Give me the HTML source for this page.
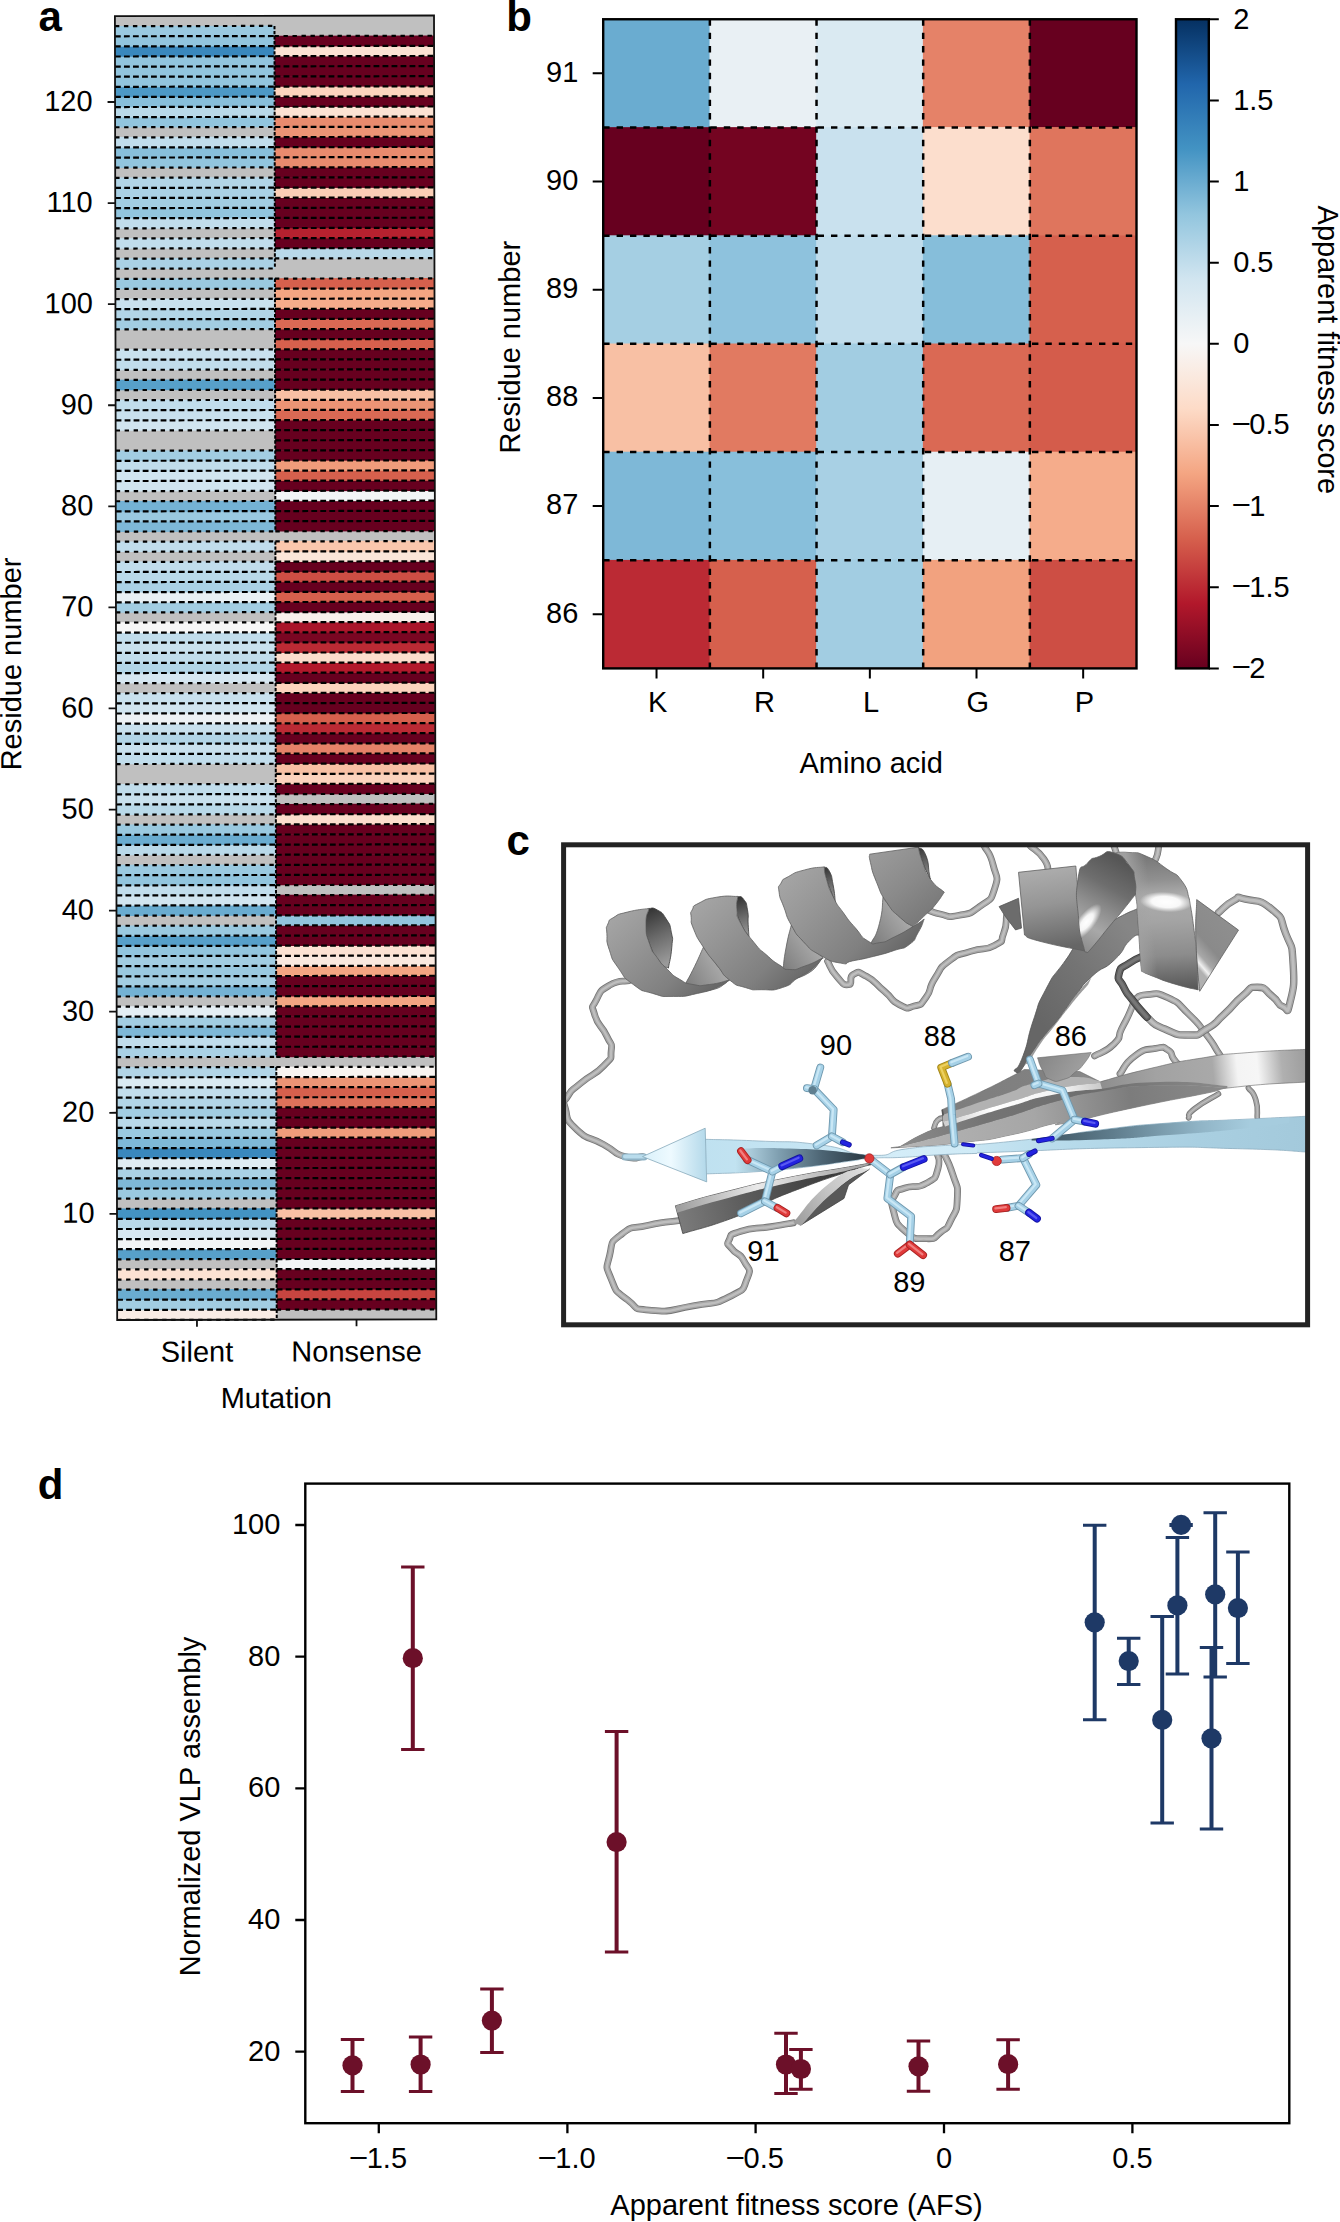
<!DOCTYPE html>
<html><head><meta charset="utf-8"><title>Figure</title>
<style>
html,body{margin:0;padding:0;background:#fff;}
body{width:1340px;height:2222px;overflow:hidden;}
svg{display:block;font-family:"Liberation Sans",sans-serif;fill:#000;}
</style></head><body>
<svg width="1340" height="2222" viewBox="0 0 1340 2222">
<rect width="1340" height="2222" fill="#fff"/>
<g transform="rotate(-0.1 275.6 668)">
<rect x="116.05" y="15.8" width="319.09999999999997" height="1303.9" fill="#c0c0c0"/>
<rect x="116.05" y="1309.29" width="159.55" height="10.71" fill="#f9ece5"/>
<rect x="116.05" y="1299.18" width="159.55" height="10.71" fill="#a2cde2"/>
<rect x="116.05" y="1289.08" width="159.55" height="10.71" fill="#6aacd0"/>
<rect x="116.05" y="1268.86" width="159.55" height="10.71" fill="#fce2d3"/>
<rect x="116.05" y="1248.65" width="159.55" height="10.71" fill="#57a0ca"/>
<rect x="116.05" y="1238.54" width="159.55" height="10.71" fill="#f2f5f6"/>
<rect x="116.05" y="1228.43" width="159.55" height="10.71" fill="#d6e7f1"/>
<rect x="116.05" y="1218.32" width="159.55" height="10.71" fill="#b9d9e9"/>
<rect x="116.05" y="1208.21" width="159.55" height="10.71" fill="#4393c3"/>
<rect x="116.05" y="1188.00" width="159.55" height="10.71" fill="#9ac9e0"/>
<rect x="116.05" y="1177.89" width="159.55" height="10.71" fill="#7eb8d7"/>
<rect x="116.05" y="1167.78" width="159.55" height="10.71" fill="#aad1e5"/>
<rect x="116.05" y="1157.68" width="159.55" height="10.71" fill="#dfecf3"/>
<rect x="116.05" y="1147.57" width="159.55" height="10.71" fill="#3a88bd"/>
<rect x="116.05" y="1137.46" width="159.55" height="10.71" fill="#7eb8d7"/>
<rect x="116.05" y="1127.35" width="159.55" height="10.71" fill="#9ac9e0"/>
<rect x="116.05" y="1117.24" width="159.55" height="10.71" fill="#b9d9e9"/>
<rect x="116.05" y="1107.14" width="159.55" height="10.71" fill="#a2cde2"/>
<rect x="116.05" y="1097.03" width="159.55" height="10.71" fill="#b2d5e7"/>
<rect x="116.05" y="1086.92" width="159.55" height="10.71" fill="#c1ddec"/>
<rect x="116.05" y="1076.81" width="159.55" height="10.71" fill="#daeaf2"/>
<rect x="116.05" y="1066.71" width="159.55" height="10.71" fill="#b2d5e7"/>
<rect x="116.05" y="1046.49" width="159.55" height="10.71" fill="#aad1e5"/>
<rect x="116.05" y="1036.38" width="159.55" height="10.71" fill="#c1ddec"/>
<rect x="116.05" y="1026.28" width="159.55" height="10.71" fill="#7eb8d7"/>
<rect x="116.05" y="1016.17" width="159.55" height="10.71" fill="#a2cde2"/>
<rect x="116.05" y="1006.06" width="159.55" height="10.71" fill="#e4eef4"/>
<rect x="116.05" y="985.84" width="159.55" height="10.71" fill="#74b2d4"/>
<rect x="116.05" y="975.74" width="159.55" height="10.71" fill="#a2cde2"/>
<rect x="116.05" y="965.63" width="159.55" height="10.71" fill="#9ac9e0"/>
<rect x="116.05" y="955.52" width="159.55" height="10.71" fill="#a2cde2"/>
<rect x="116.05" y="945.41" width="159.55" height="10.71" fill="#92c5de"/>
<rect x="116.05" y="935.31" width="159.55" height="10.71" fill="#57a0ca"/>
<rect x="116.05" y="925.20" width="159.55" height="10.71" fill="#9ac9e0"/>
<rect x="116.05" y="904.98" width="159.55" height="10.71" fill="#6aacd0"/>
<rect x="116.05" y="894.87" width="159.55" height="10.71" fill="#d1e5f0"/>
<rect x="116.05" y="884.77" width="159.55" height="10.71" fill="#c1ddec"/>
<rect x="116.05" y="874.66" width="159.55" height="10.71" fill="#92c5de"/>
<rect x="116.05" y="864.55" width="159.55" height="10.71" fill="#9ac9e0"/>
<rect x="116.05" y="844.34" width="159.55" height="10.71" fill="#b9d9e9"/>
<rect x="116.05" y="834.23" width="159.55" height="10.71" fill="#6aacd0"/>
<rect x="116.05" y="824.12" width="159.55" height="10.71" fill="#9ac9e0"/>
<rect x="116.05" y="803.90" width="159.55" height="10.71" fill="#b9d9e9"/>
<rect x="116.05" y="793.80" width="159.55" height="10.71" fill="#c9e1ee"/>
<rect x="116.05" y="783.69" width="159.55" height="10.71" fill="#c1ddec"/>
<rect x="116.05" y="753.37" width="159.55" height="10.71" fill="#c1ddec"/>
<rect x="116.05" y="743.26" width="159.55" height="10.71" fill="#c9e1ee"/>
<rect x="116.05" y="733.15" width="159.55" height="10.71" fill="#b2d5e7"/>
<rect x="116.05" y="723.04" width="159.55" height="10.71" fill="#c9e1ee"/>
<rect x="116.05" y="712.93" width="159.55" height="10.71" fill="#eef2f5"/>
<rect x="116.05" y="702.83" width="159.55" height="10.71" fill="#d1e5f0"/>
<rect x="116.05" y="692.72" width="159.55" height="10.71" fill="#c9e1ee"/>
<rect x="116.05" y="672.50" width="159.55" height="10.71" fill="#d6e7f1"/>
<rect x="116.05" y="662.40" width="159.55" height="10.71" fill="#b2d5e7"/>
<rect x="116.05" y="652.29" width="159.55" height="10.71" fill="#c1ddec"/>
<rect x="116.05" y="642.18" width="159.55" height="10.71" fill="#c9e1ee"/>
<rect x="116.05" y="632.07" width="159.55" height="10.71" fill="#c1ddec"/>
<rect x="116.05" y="621.97" width="159.55" height="10.71" fill="#f7f7f7"/>
<rect x="116.05" y="601.75" width="159.55" height="10.71" fill="#a2cde2"/>
<rect x="116.05" y="591.64" width="159.55" height="10.71" fill="#e9f0f4"/>
<rect x="116.05" y="581.53" width="159.55" height="10.71" fill="#aad1e5"/>
<rect x="116.05" y="571.43" width="159.55" height="10.71" fill="#b9d9e9"/>
<rect x="116.05" y="561.32" width="159.55" height="10.71" fill="#c1ddec"/>
<rect x="116.05" y="541.10" width="159.55" height="10.71" fill="#c1ddec"/>
<rect x="116.05" y="520.89" width="159.55" height="10.71" fill="#7eb8d7"/>
<rect x="116.05" y="510.78" width="159.55" height="10.71" fill="#9ac9e0"/>
<rect x="116.05" y="500.67" width="159.55" height="10.71" fill="#74b2d4"/>
<rect x="116.05" y="480.46" width="159.55" height="10.71" fill="#d1e5f0"/>
<rect x="116.05" y="470.35" width="159.55" height="10.71" fill="#d1e5f0"/>
<rect x="116.05" y="460.24" width="159.55" height="10.71" fill="#c1ddec"/>
<rect x="116.05" y="450.13" width="159.55" height="10.71" fill="#a2cde2"/>
<rect x="116.05" y="419.81" width="159.55" height="10.71" fill="#d1e5f0"/>
<rect x="116.05" y="409.70" width="159.55" height="10.71" fill="#c9e1ee"/>
<rect x="116.05" y="399.59" width="159.55" height="10.71" fill="#c1ddec"/>
<rect x="116.05" y="379.38" width="159.55" height="10.71" fill="#57a0ca"/>
<rect x="116.05" y="359.16" width="159.55" height="10.71" fill="#c1ddec"/>
<rect x="116.05" y="349.06" width="159.55" height="10.71" fill="#c9e1ee"/>
<rect x="116.05" y="318.73" width="159.55" height="10.71" fill="#a2cde2"/>
<rect x="116.05" y="308.62" width="159.55" height="10.71" fill="#b2d5e7"/>
<rect x="116.05" y="298.52" width="159.55" height="10.71" fill="#c9e1ee"/>
<rect x="116.05" y="278.30" width="159.55" height="10.71" fill="#9ac9e0"/>
<rect x="116.05" y="258.09" width="159.55" height="10.71" fill="#aad1e5"/>
<rect x="116.05" y="237.87" width="159.55" height="10.71" fill="#c1ddec"/>
<rect x="116.05" y="217.66" width="159.55" height="10.71" fill="#c1ddec"/>
<rect x="116.05" y="207.55" width="159.55" height="10.71" fill="#92c5de"/>
<rect x="116.05" y="197.44" width="159.55" height="10.71" fill="#a2cde2"/>
<rect x="116.05" y="187.33" width="159.55" height="10.71" fill="#aad1e5"/>
<rect x="116.05" y="177.22" width="159.55" height="10.71" fill="#b2d5e7"/>
<rect x="116.05" y="157.01" width="159.55" height="10.71" fill="#92c5de"/>
<rect x="116.05" y="146.90" width="159.55" height="10.71" fill="#88bfdb"/>
<rect x="116.05" y="136.79" width="159.55" height="10.71" fill="#c1ddec"/>
<rect x="116.05" y="116.58" width="159.55" height="10.71" fill="#92c5de"/>
<rect x="116.05" y="106.47" width="159.55" height="10.71" fill="#b9d9e9"/>
<rect x="116.05" y="96.36" width="159.55" height="10.71" fill="#88bfdb"/>
<rect x="116.05" y="86.25" width="159.55" height="10.71" fill="#4d99c6"/>
<rect x="116.05" y="76.15" width="159.55" height="10.71" fill="#92c5de"/>
<rect x="116.05" y="66.04" width="159.55" height="10.71" fill="#92c5de"/>
<rect x="116.05" y="55.93" width="159.55" height="10.71" fill="#92c5de"/>
<rect x="116.05" y="45.82" width="159.55" height="10.71" fill="#3a88bd"/>
<rect x="116.05" y="35.72" width="159.55" height="10.71" fill="#92c5de"/>
<rect x="116.05" y="25.61" width="159.55" height="10.71" fill="#9ac9e0"/>
<rect x="275.60" y="1299.18" width="159.55" height="10.71" fill="#67001f"/>
<rect x="275.60" y="1289.08" width="159.55" height="10.71" fill="#c84540"/>
<rect x="275.60" y="1278.97" width="159.55" height="10.71" fill="#67001f"/>
<rect x="275.60" y="1268.86" width="159.55" height="10.71" fill="#67001f"/>
<rect x="275.60" y="1258.75" width="159.55" height="10.71" fill="#f2f5f6"/>
<rect x="275.60" y="1248.65" width="159.55" height="10.71" fill="#67001f"/>
<rect x="275.60" y="1238.54" width="159.55" height="10.71" fill="#67001f"/>
<rect x="275.60" y="1228.43" width="159.55" height="10.71" fill="#67001f"/>
<rect x="275.60" y="1218.32" width="159.55" height="10.71" fill="#67001f"/>
<rect x="275.60" y="1208.21" width="159.55" height="10.71" fill="#f8c0a4"/>
<rect x="275.60" y="1198.11" width="159.55" height="10.71" fill="#67001f"/>
<rect x="275.60" y="1188.00" width="159.55" height="10.71" fill="#67001f"/>
<rect x="275.60" y="1177.89" width="159.55" height="10.71" fill="#67001f"/>
<rect x="275.60" y="1167.78" width="159.55" height="10.71" fill="#67001f"/>
<rect x="275.60" y="1157.68" width="159.55" height="10.71" fill="#67001f"/>
<rect x="275.60" y="1147.57" width="159.55" height="10.71" fill="#67001f"/>
<rect x="275.60" y="1137.46" width="159.55" height="10.71" fill="#67001f"/>
<rect x="275.60" y="1127.35" width="159.55" height="10.71" fill="#f09c7b"/>
<rect x="275.60" y="1117.24" width="159.55" height="10.71" fill="#67001f"/>
<rect x="275.60" y="1107.14" width="159.55" height="10.71" fill="#67001f"/>
<rect x="275.60" y="1097.03" width="159.55" height="10.71" fill="#de715a"/>
<rect x="275.60" y="1086.92" width="159.55" height="10.71" fill="#d6604d"/>
<rect x="275.60" y="1076.81" width="159.55" height="10.71" fill="#ec9475"/>
<rect x="275.60" y="1066.71" width="159.55" height="10.71" fill="#f8f4f1"/>
<rect x="275.60" y="1046.49" width="159.55" height="10.71" fill="#67001f"/>
<rect x="275.60" y="1036.38" width="159.55" height="10.71" fill="#67001f"/>
<rect x="275.60" y="1026.28" width="159.55" height="10.71" fill="#67001f"/>
<rect x="275.60" y="1016.17" width="159.55" height="10.71" fill="#67001f"/>
<rect x="275.60" y="1006.06" width="159.55" height="10.71" fill="#67001f"/>
<rect x="275.60" y="995.95" width="159.55" height="10.71" fill="#f4a582"/>
<rect x="275.60" y="985.84" width="159.55" height="10.71" fill="#67001f"/>
<rect x="275.60" y="975.74" width="159.55" height="10.71" fill="#67001f"/>
<rect x="275.60" y="965.63" width="159.55" height="10.71" fill="#f4a582"/>
<rect x="275.60" y="955.52" width="159.55" height="10.71" fill="#fae9df"/>
<rect x="275.60" y="945.41" width="159.55" height="10.71" fill="#fce2d3"/>
<rect x="275.60" y="935.31" width="159.55" height="10.71" fill="#67001f"/>
<rect x="275.60" y="925.20" width="159.55" height="10.71" fill="#67001f"/>
<rect x="275.60" y="915.09" width="159.55" height="10.71" fill="#92c5de"/>
<rect x="275.60" y="904.98" width="159.55" height="10.71" fill="#67001f"/>
<rect x="275.60" y="894.87" width="159.55" height="10.71" fill="#67001f"/>
<rect x="275.60" y="874.66" width="159.55" height="10.71" fill="#67001f"/>
<rect x="275.60" y="864.55" width="159.55" height="10.71" fill="#67001f"/>
<rect x="275.60" y="854.44" width="159.55" height="10.71" fill="#67001f"/>
<rect x="275.60" y="844.34" width="159.55" height="10.71" fill="#67001f"/>
<rect x="275.60" y="834.23" width="159.55" height="10.71" fill="#67001f"/>
<rect x="275.60" y="824.12" width="159.55" height="10.71" fill="#67001f"/>
<rect x="275.60" y="814.01" width="159.55" height="10.71" fill="#fcdecd"/>
<rect x="275.60" y="803.90" width="159.55" height="10.71" fill="#67001f"/>
<rect x="275.60" y="783.69" width="159.55" height="10.71" fill="#67001f"/>
<rect x="275.60" y="773.58" width="159.55" height="10.71" fill="#fcd4be"/>
<rect x="275.60" y="763.47" width="159.55" height="10.71" fill="#f8c0a4"/>
<rect x="275.60" y="753.37" width="159.55" height="10.71" fill="#67001f"/>
<rect x="275.60" y="743.26" width="159.55" height="10.71" fill="#e58268"/>
<rect x="275.60" y="733.15" width="159.55" height="10.71" fill="#67001f"/>
<rect x="275.60" y="723.04" width="159.55" height="10.71" fill="#bb2a34"/>
<rect x="275.60" y="712.93" width="159.55" height="10.71" fill="#d6604d"/>
<rect x="275.60" y="702.83" width="159.55" height="10.71" fill="#67001f"/>
<rect x="275.60" y="692.72" width="159.55" height="10.71" fill="#67001f"/>
<rect x="275.60" y="682.61" width="159.55" height="10.71" fill="#fcd4be"/>
<rect x="275.60" y="672.50" width="159.55" height="10.71" fill="#67001f"/>
<rect x="275.60" y="662.40" width="159.55" height="10.71" fill="#b2182b"/>
<rect x="275.60" y="652.29" width="159.55" height="10.71" fill="#fcdecd"/>
<rect x="275.60" y="642.18" width="159.55" height="10.71" fill="#bb2a34"/>
<rect x="275.60" y="632.07" width="159.55" height="10.71" fill="#7a0622"/>
<rect x="275.60" y="621.97" width="159.55" height="10.71" fill="#a9152a"/>
<rect x="275.60" y="611.86" width="159.55" height="10.71" fill="#f8f0eb"/>
<rect x="275.60" y="601.75" width="159.55" height="10.71" fill="#67001f"/>
<rect x="275.60" y="591.64" width="159.55" height="10.71" fill="#d6604d"/>
<rect x="275.60" y="581.53" width="159.55" height="10.71" fill="#67001f"/>
<rect x="275.60" y="571.43" width="159.55" height="10.71" fill="#cd4e44"/>
<rect x="275.60" y="561.32" width="159.55" height="10.71" fill="#67001f"/>
<rect x="275.60" y="551.21" width="159.55" height="10.71" fill="#fbe6d9"/>
<rect x="275.60" y="541.10" width="159.55" height="10.71" fill="#fac7ad"/>
<rect x="275.60" y="520.89" width="159.55" height="10.71" fill="#67001f"/>
<rect x="275.60" y="510.78" width="159.55" height="10.71" fill="#67001f"/>
<rect x="275.60" y="500.67" width="159.55" height="10.71" fill="#67001f"/>
<rect x="275.60" y="490.56" width="159.55" height="10.71" fill="#f2f5f6"/>
<rect x="275.60" y="480.46" width="159.55" height="10.71" fill="#67001f"/>
<rect x="275.60" y="470.35" width="159.55" height="10.71" fill="#d6604d"/>
<rect x="275.60" y="460.24" width="159.55" height="10.71" fill="#f09c7b"/>
<rect x="275.60" y="450.13" width="159.55" height="10.71" fill="#67001f"/>
<rect x="275.60" y="440.03" width="159.55" height="10.71" fill="#67001f"/>
<rect x="275.60" y="429.92" width="159.55" height="10.71" fill="#67001f"/>
<rect x="275.60" y="419.81" width="159.55" height="10.71" fill="#67001f"/>
<rect x="275.60" y="409.70" width="159.55" height="10.71" fill="#da6954"/>
<rect x="275.60" y="399.59" width="159.55" height="10.71" fill="#ec9475"/>
<rect x="275.60" y="389.49" width="159.55" height="10.71" fill="#f8c0a4"/>
<rect x="275.60" y="379.38" width="159.55" height="10.71" fill="#67001f"/>
<rect x="275.60" y="369.27" width="159.55" height="10.71" fill="#67001f"/>
<rect x="275.60" y="359.16" width="159.55" height="10.71" fill="#67001f"/>
<rect x="275.60" y="349.06" width="159.55" height="10.71" fill="#67001f"/>
<rect x="275.60" y="338.95" width="159.55" height="10.71" fill="#d6604d"/>
<rect x="275.60" y="328.84" width="159.55" height="10.71" fill="#67001f"/>
<rect x="275.60" y="318.73" width="159.55" height="10.71" fill="#da6954"/>
<rect x="275.60" y="308.62" width="159.55" height="10.71" fill="#67001f"/>
<rect x="275.60" y="298.52" width="159.55" height="10.71" fill="#f5ac8b"/>
<rect x="275.60" y="288.41" width="159.55" height="10.71" fill="#f4a582"/>
<rect x="275.60" y="278.30" width="159.55" height="10.71" fill="#d6604d"/>
<rect x="275.60" y="247.98" width="159.55" height="10.71" fill="#b9d9e9"/>
<rect x="275.60" y="237.87" width="159.55" height="10.71" fill="#67001f"/>
<rect x="275.60" y="227.76" width="159.55" height="10.71" fill="#b6212f"/>
<rect x="275.60" y="217.66" width="159.55" height="10.71" fill="#67001f"/>
<rect x="275.60" y="207.55" width="159.55" height="10.71" fill="#67001f"/>
<rect x="275.60" y="197.44" width="159.55" height="10.71" fill="#67001f"/>
<rect x="275.60" y="187.33" width="159.55" height="10.71" fill="#fbceb6"/>
<rect x="275.60" y="177.22" width="159.55" height="10.71" fill="#67001f"/>
<rect x="275.60" y="167.12" width="159.55" height="10.71" fill="#67001f"/>
<rect x="275.60" y="157.01" width="159.55" height="10.71" fill="#e98b6e"/>
<rect x="275.60" y="146.90" width="159.55" height="10.71" fill="#e98b6e"/>
<rect x="275.60" y="136.79" width="159.55" height="10.71" fill="#67001f"/>
<rect x="275.60" y="126.69" width="159.55" height="10.71" fill="#ec9475"/>
<rect x="275.60" y="116.58" width="159.55" height="10.71" fill="#e98b6e"/>
<rect x="275.60" y="106.47" width="159.55" height="10.71" fill="#fce2d3"/>
<rect x="275.60" y="96.36" width="159.55" height="10.71" fill="#67001f"/>
<rect x="275.60" y="86.25" width="159.55" height="10.71" fill="#fcd4be"/>
<rect x="275.60" y="76.15" width="159.55" height="10.71" fill="#67001f"/>
<rect x="275.60" y="66.04" width="159.55" height="10.71" fill="#67001f"/>
<rect x="275.60" y="55.93" width="159.55" height="10.71" fill="#67001f"/>
<rect x="275.60" y="45.82" width="159.55" height="10.71" fill="#fce2d3"/>
<rect x="275.60" y="35.72" width="159.55" height="10.71" fill="#67001f"/>
<path d="M116.05 1309.59H275.60M116.05 1299.48H275.60M116.05 1248.95H275.60M116.05 1238.84H275.60M116.05 1228.73H275.60M116.05 1218.62H275.60M116.05 1188.30H275.60M116.05 1178.19H275.60M116.05 1168.08H275.60M116.05 1157.98H275.60M116.05 1147.87H275.60M116.05 1137.76H275.60M116.05 1127.65H275.60M116.05 1117.54H275.60M116.05 1107.44H275.60M116.05 1097.33H275.60M116.05 1087.22H275.60M116.05 1077.11H275.60M116.05 1046.79H275.60M116.05 1036.68H275.60M116.05 1026.58H275.60M116.05 1016.47H275.60M116.05 986.14H275.60M116.05 976.04H275.60M116.05 965.93H275.60M116.05 955.82H275.60M116.05 945.71H275.60M116.05 935.61H275.60M116.05 905.28H275.60M116.05 895.17H275.60M116.05 885.07H275.60M116.05 874.96H275.60M116.05 844.64H275.60M116.05 834.53H275.60M116.05 804.20H275.60M116.05 794.10H275.60M116.05 753.67H275.60M116.05 743.56H275.60M116.05 733.45H275.60M116.05 723.34H275.60M116.05 713.23H275.60M116.05 703.13H275.60M116.05 672.80H275.60M116.05 662.70H275.60M116.05 652.59H275.60M116.05 642.48H275.60M116.05 632.37H275.60M116.05 602.05H275.60M116.05 591.94H275.60M116.05 581.83H275.60M116.05 571.73H275.60M116.05 521.19H275.60M116.05 511.08H275.60M116.05 480.76H275.60M116.05 470.65H275.60M116.05 460.54H275.60M116.05 420.11H275.60M116.05 410.00H275.60M116.05 359.46H275.60M116.05 319.03H275.60M116.05 308.92H275.60M116.05 217.96H275.60M116.05 207.85H275.60M116.05 197.74H275.60M116.05 187.63H275.60M116.05 157.31H275.60M116.05 147.20H275.60M116.05 116.88H275.60M116.05 106.77H275.60M116.05 96.66H275.60M116.05 86.55H275.60M116.05 76.45H275.60M116.05 66.34H275.60M116.05 56.23H275.60M116.05 46.12H275.60M116.05 36.02H275.60M275.60 1299.48H435.15M275.60 1289.38H435.15M275.60 1279.27H435.15M275.60 1269.16H435.15M275.60 1259.05H435.15M275.60 1248.95H435.15M275.60 1238.84H435.15M275.60 1228.73H435.15M275.60 1218.62H435.15M275.60 1208.51H435.15M275.60 1198.41H435.15M275.60 1188.30H435.15M275.60 1178.19H435.15M275.60 1168.08H435.15M275.60 1157.98H435.15M275.60 1147.87H435.15M275.60 1137.76H435.15M275.60 1127.65H435.15M275.60 1117.54H435.15M275.60 1107.44H435.15M275.60 1097.33H435.15M275.60 1087.22H435.15M275.60 1077.11H435.15M275.60 1046.79H435.15M275.60 1036.68H435.15M275.60 1026.58H435.15M275.60 1016.47H435.15M275.60 1006.36H435.15M275.60 996.25H435.15M275.60 986.14H435.15M275.60 976.04H435.15M275.60 965.93H435.15M275.60 955.82H435.15M275.60 945.71H435.15M275.60 935.61H435.15M275.60 925.50H435.15M275.60 915.39H435.15M275.60 905.28H435.15M275.60 874.96H435.15M275.60 864.85H435.15M275.60 854.74H435.15M275.60 844.64H435.15M275.60 834.53H435.15M275.60 824.42H435.15M275.60 814.31H435.15M275.60 783.99H435.15M275.60 773.88H435.15M275.60 763.77H435.15M275.60 753.67H435.15M275.60 743.56H435.15M275.60 733.45H435.15M275.60 723.34H435.15M275.60 713.23H435.15M275.60 703.13H435.15M275.60 693.02H435.15M275.60 682.91H435.15M275.60 672.80H435.15M275.60 662.70H435.15M275.60 652.59H435.15M275.60 642.48H435.15M275.60 632.37H435.15M275.60 622.27H435.15M275.60 612.16H435.15M275.60 602.05H435.15M275.60 591.94H435.15M275.60 581.83H435.15M275.60 571.73H435.15M275.60 561.62H435.15M275.60 551.51H435.15M275.60 521.19H435.15M275.60 511.08H435.15M275.60 500.97H435.15M275.60 490.86H435.15M275.60 480.76H435.15M275.60 470.65H435.15M275.60 460.54H435.15M275.60 450.43H435.15M275.60 440.33H435.15M275.60 430.22H435.15M275.60 420.11H435.15M275.60 410.00H435.15M275.60 399.89H435.15M275.60 389.79H435.15M275.60 379.68H435.15M275.60 369.57H435.15M275.60 359.46H435.15M275.60 349.36H435.15M275.60 339.25H435.15M275.60 329.14H435.15M275.60 319.03H435.15M275.60 308.92H435.15M275.60 298.82H435.15M275.60 288.71H435.15M275.60 248.28H435.15M275.60 238.17H435.15M275.60 228.06H435.15M275.60 217.96H435.15M275.60 207.85H435.15M275.60 197.74H435.15M275.60 187.63H435.15M275.60 177.52H435.15M275.60 167.42H435.15M275.60 157.31H435.15M275.60 147.20H435.15M275.60 137.09H435.15M275.60 126.99H435.15M275.60 116.88H435.15M275.60 106.77H435.15M275.60 96.66H435.15M275.60 86.55H435.15M275.60 76.45H435.15M275.60 66.34H435.15M275.60 56.23H435.15M275.60 46.12H435.15" stroke="#000" stroke-width="2.2" stroke-dasharray="5.8 3.2" fill="none"/>
<path d="M116.05 1319.70H275.60M116.05 1289.38H275.60M116.05 1279.27H275.60M116.05 1269.16H275.60M116.05 1259.05H275.60M116.05 1208.51H275.60M116.05 1198.41H275.60M116.05 1067.01H275.60M116.05 1056.90H275.60M116.05 1006.36H275.60M116.05 996.25H275.60M116.05 925.50H275.60M116.05 915.39H275.60M116.05 864.85H275.60M116.05 854.74H275.60M116.05 824.42H275.60M116.05 814.31H275.60M116.05 783.99H275.60M116.05 763.77H275.60M116.05 693.02H275.60M116.05 682.91H275.60M116.05 622.27H275.60M116.05 612.16H275.60M116.05 561.62H275.60M116.05 551.51H275.60M116.05 541.40H275.60M116.05 531.30H275.60M116.05 500.97H275.60M116.05 490.86H275.60M116.05 450.43H275.60M116.05 430.22H275.60M116.05 399.89H275.60M116.05 389.79H275.60M116.05 379.68H275.60M116.05 369.57H275.60M116.05 349.36H275.60M116.05 329.14H275.60M116.05 298.82H275.60M116.05 288.71H275.60M116.05 278.60H275.60M116.05 268.49H275.60M116.05 258.39H275.60M116.05 248.28H275.60M116.05 238.17H275.60M116.05 228.06H275.60M116.05 177.52H275.60M116.05 167.42H275.60M116.05 137.09H275.60M116.05 126.99H275.60M116.05 25.91H275.60M275.60 1309.59H435.15M275.60 1067.01H435.15M275.60 1056.90H435.15M275.60 895.17H435.15M275.60 885.07H435.15M275.60 804.20H435.15M275.60 794.10H435.15M275.60 541.40H435.15M275.60 531.30H435.15M275.60 278.60H435.15M275.60 258.39H435.15M275.60 36.02H435.15" stroke="#000" stroke-width="2.2" stroke-dasharray="4.4 4.6" fill="none"/>
<path d="M275.60 1309.59V1319.70M275.60 1299.48V1309.59M275.60 1289.38V1299.48M275.60 1279.27V1289.38M275.60 1269.16V1279.27M275.60 1259.05V1269.16M275.60 1248.95V1259.05M275.60 1238.84V1248.95M275.60 1228.73V1238.84M275.60 1218.62V1228.73M275.60 1208.51V1218.62M275.60 1198.41V1208.51M275.60 1188.30V1198.41M275.60 1178.19V1188.30M275.60 1168.08V1178.19M275.60 1157.98V1168.08M275.60 1147.87V1157.98M275.60 1137.76V1147.87M275.60 1127.65V1137.76M275.60 1117.54V1127.65M275.60 1107.44V1117.54M275.60 1097.33V1107.44M275.60 1087.22V1097.33M275.60 1077.11V1087.22M275.60 1067.01V1077.11M275.60 1046.79V1056.90M275.60 1036.68V1046.79M275.60 1026.58V1036.68M275.60 1016.47V1026.58M275.60 1006.36V1016.47M275.60 996.25V1006.36M275.60 986.14V996.25M275.60 976.04V986.14M275.60 965.93V976.04M275.60 955.82V965.93M275.60 945.71V955.82M275.60 935.61V945.71M275.60 925.50V935.61M275.60 915.39V925.50M275.60 905.28V915.39M275.60 895.17V905.28M275.60 885.07V895.17M275.60 874.96V885.07M275.60 864.85V874.96M275.60 854.74V864.85M275.60 844.64V854.74M275.60 834.53V844.64M275.60 824.42V834.53M275.60 814.31V824.42M275.60 804.20V814.31M275.60 794.10V804.20M275.60 783.99V794.10M275.60 773.88V783.99M275.60 763.77V773.88M275.60 753.67V763.77M275.60 743.56V753.67M275.60 733.45V743.56M275.60 723.34V733.45M275.60 713.23V723.34M275.60 703.13V713.23M275.60 693.02V703.13M275.60 682.91V693.02M275.60 672.80V682.91M275.60 662.70V672.80M275.60 652.59V662.70M275.60 642.48V652.59M275.60 632.37V642.48M275.60 622.27V632.37M275.60 612.16V622.27M275.60 602.05V612.16M275.60 591.94V602.05M275.60 581.83V591.94M275.60 571.73V581.83M275.60 561.62V571.73M275.60 551.51V561.62M275.60 541.40V551.51M275.60 521.19V531.30M275.60 511.08V521.19M275.60 500.97V511.08M275.60 490.86V500.97M275.60 480.76V490.86M275.60 470.65V480.76M275.60 460.54V470.65M275.60 450.43V460.54M275.60 440.33V450.43M275.60 430.22V440.33M275.60 420.11V430.22M275.60 410.00V420.11M275.60 399.89V410.00M275.60 389.79V399.89M275.60 379.68V389.79M275.60 369.57V379.68M275.60 359.46V369.57M275.60 349.36V359.46M275.60 339.25V349.36M275.60 329.14V339.25M275.60 319.03V329.14M275.60 308.92V319.03M275.60 298.82V308.92M275.60 288.71V298.82M275.60 278.60V288.71M275.60 258.39V268.49M275.60 248.28V258.39M275.60 238.17V248.28M275.60 228.06V238.17M275.60 217.96V228.06M275.60 207.85V217.96M275.60 197.74V207.85M275.60 187.63V197.74M275.60 177.52V187.63M275.60 167.42V177.52M275.60 157.31V167.42M275.60 147.20V157.31M275.60 137.09V147.20M275.60 126.99V137.09M275.60 116.88V126.99M275.60 106.77V116.88M275.60 96.66V106.77M275.60 86.55V96.66M275.60 76.45V86.55M275.60 66.34V76.45M275.60 56.23V66.34M275.60 46.12V56.23M275.60 36.02V46.12M275.60 25.91V36.02" stroke="#000" stroke-width="2" stroke-dasharray="3.4 1.65" fill="none"/>
<rect x="116.05" y="15.8" width="319.09999999999997" height="1303.9" fill="none" stroke="#111" stroke-width="1.8"/>
<text x="93.55" y="1222.47" text-anchor="end" font-size="29" font-weight="normal">10</text>
<text x="93.55" y="1121.39" text-anchor="end" font-size="29" font-weight="normal">20</text>
<text x="93.55" y="1020.31" text-anchor="end" font-size="29" font-weight="normal">30</text>
<text x="93.55" y="919.24" text-anchor="end" font-size="29" font-weight="normal">40</text>
<text x="93.55" y="818.16" text-anchor="end" font-size="29" font-weight="normal">50</text>
<text x="93.55" y="717.08" text-anchor="end" font-size="29" font-weight="normal">60</text>
<text x="93.55" y="616.0" text-anchor="end" font-size="29" font-weight="normal">70</text>
<text x="93.55" y="514.93" text-anchor="end" font-size="29" font-weight="normal">80</text>
<text x="93.55" y="413.85" text-anchor="end" font-size="29" font-weight="normal">90</text>
<text x="93.55" y="312.77" text-anchor="end" font-size="29" font-weight="normal">100</text>
<text x="93.55" y="211.69" text-anchor="end" font-size="29" font-weight="normal">110</text>
<text x="93.55" y="110.62" text-anchor="end" font-size="29" font-weight="normal">120</text>
<path d="M108.55 1213.57H116.05M108.55 1112.49H116.05M108.55 1011.41H116.05M108.55 910.34H116.05M108.55 809.26H116.05M108.55 708.18H116.05M108.55 607.10H116.05M108.55 506.03H116.05M108.55 404.95H116.05M108.55 303.87H116.05M108.55 202.79H116.05M108.55 101.72H116.05M195.82 1319.7V1326.5M355.38 1319.7V1326.5" stroke="#111" stroke-width="1.8" fill="none"/>
<text x="195.8" y="1361.5" text-anchor="middle" font-size="29" font-weight="normal">Silent</text>
<text x="355.4" y="1361.5" text-anchor="middle" font-size="29" font-weight="normal">Nonsense</text>
<text x="275" y="1408" text-anchor="middle" font-size="29" font-weight="normal">Mutation</text>
<text x="21" y="663.5" text-anchor="middle" font-size="29" font-weight="normal" transform="rotate(-90 21 663.5)">Residue number</text>
</g>
<text x="38.5" y="31" text-anchor="start" font-size="42" font-weight="bold">a</text>
<rect x="602.90" y="18.95" width="107.26" height="108.79" fill="#6aacd0"/>
<rect x="709.56" y="18.95" width="107.26" height="108.79" fill="#e9f0f4"/>
<rect x="816.22" y="18.95" width="107.26" height="108.79" fill="#daeaf2"/>
<rect x="922.88" y="18.95" width="107.26" height="108.79" fill="#e58268"/>
<rect x="1029.54" y="18.95" width="107.26" height="108.79" fill="#67001f"/>
<rect x="602.90" y="127.14" width="107.26" height="108.79" fill="#67001f"/>
<rect x="709.56" y="127.14" width="107.26" height="108.79" fill="#740421"/>
<rect x="816.22" y="127.14" width="107.26" height="108.79" fill="#c9e1ee"/>
<rect x="922.88" y="127.14" width="107.26" height="108.79" fill="#fcdecd"/>
<rect x="1029.54" y="127.14" width="107.26" height="108.79" fill="#df755d"/>
<rect x="602.90" y="235.33" width="107.26" height="108.79" fill="#a5cfe3"/>
<rect x="709.56" y="235.33" width="107.26" height="108.79" fill="#8ec2dd"/>
<rect x="816.22" y="235.33" width="107.26" height="108.79" fill="#c1ddec"/>
<rect x="922.88" y="235.33" width="107.26" height="108.79" fill="#86beda"/>
<rect x="1029.54" y="235.33" width="107.26" height="108.79" fill="#d6604d"/>
<rect x="602.90" y="343.52" width="107.26" height="108.79" fill="#f8c0a4"/>
<rect x="709.56" y="343.52" width="107.26" height="108.79" fill="#e17a61"/>
<rect x="816.22" y="343.52" width="107.26" height="108.79" fill="#a2cde2"/>
<rect x="922.88" y="343.52" width="107.26" height="108.79" fill="#da6954"/>
<rect x="1029.54" y="343.52" width="107.26" height="108.79" fill="#d45c4b"/>
<rect x="602.90" y="451.72" width="107.26" height="108.79" fill="#7eb8d7"/>
<rect x="709.56" y="451.72" width="107.26" height="108.79" fill="#88bfdb"/>
<rect x="816.22" y="451.72" width="107.26" height="108.79" fill="#a8d0e4"/>
<rect x="922.88" y="451.72" width="107.26" height="108.79" fill="#e6eff4"/>
<rect x="1029.54" y="451.72" width="107.26" height="108.79" fill="#f5ac8b"/>
<rect x="602.90" y="559.91" width="107.26" height="108.79" fill="#bb2a34"/>
<rect x="709.56" y="559.91" width="107.26" height="108.79" fill="#d6604d"/>
<rect x="816.22" y="559.91" width="107.26" height="108.79" fill="#a2cde2"/>
<rect x="922.88" y="559.91" width="107.26" height="108.79" fill="#f2a27f"/>
<rect x="1029.54" y="559.91" width="107.26" height="108.79" fill="#cd4e44"/>
<path d="M709.86 19.25V668.4M816.52 19.25V668.4M923.18 19.25V668.4M1029.84 19.25V668.4M603.2 127.44H1136.5M603.2 235.63H1136.5M603.2 343.82H1136.5M603.2 452.02H1136.5M603.2 560.21H1136.5" stroke="#000" stroke-width="2.5" stroke-dasharray="6.4 7" fill="none"/>
<rect x="603.2" y="19.25" width="533.3" height="649.15" fill="none" stroke="#000" stroke-width="2.4"/>
<text x="578.3" y="81.55" text-anchor="end" font-size="29" font-weight="normal">91</text>
<text x="578.3" y="189.74" text-anchor="end" font-size="29" font-weight="normal">90</text>
<text x="578.3" y="297.93" text-anchor="end" font-size="29" font-weight="normal">89</text>
<text x="578.3" y="406.12" text-anchor="end" font-size="29" font-weight="normal">88</text>
<text x="578.3" y="514.31" text-anchor="end" font-size="29" font-weight="normal">87</text>
<text x="578.3" y="622.5" text-anchor="end" font-size="29" font-weight="normal">86</text>
<text x="657.73" y="711.8" text-anchor="middle" font-size="29" font-weight="normal">K</text>
<text x="764.39" y="711.8" text-anchor="middle" font-size="29" font-weight="normal">R</text>
<text x="871.05" y="711.8" text-anchor="middle" font-size="29" font-weight="normal">L</text>
<text x="977.71" y="711.8" text-anchor="middle" font-size="29" font-weight="normal">G</text>
<text x="1084.37" y="711.8" text-anchor="middle" font-size="29" font-weight="normal">P</text>
<path d="M592.70 73.35H603.2M592.70 181.54H603.2M592.70 289.73H603.2M592.70 397.92H603.2M592.70 506.11H603.2M592.70 614.30H603.2M656.53 668.4V678.4M763.19 668.4V678.4M869.85 668.4V678.4M976.51 668.4V678.4M1083.17 668.4V678.4" stroke="#000" stroke-width="2" fill="none"/>
<text x="871.2" y="772.8" text-anchor="middle" font-size="29" font-weight="normal">Amino acid</text>
<text x="519.7" y="347.2" text-anchor="middle" font-size="29" font-weight="normal" transform="rotate(-90 519.7 347.2)">Residue number</text>
<text x="506.2" y="31" text-anchor="start" font-size="42" font-weight="bold">b</text>
<defs><linearGradient id="cb" x1="0" y1="0" x2="0" y2="1"><stop offset="0%" stop-color="#053061"/><stop offset="10%" stop-color="#2166ac"/><stop offset="20%" stop-color="#4393c3"/><stop offset="30%" stop-color="#92c5de"/><stop offset="40%" stop-color="#d1e5f0"/><stop offset="50%" stop-color="#f7f7f7"/><stop offset="60%" stop-color="#fddbc7"/><stop offset="70%" stop-color="#f4a582"/><stop offset="80%" stop-color="#d6604d"/><stop offset="90%" stop-color="#b2182b"/><stop offset="100%" stop-color="#67001f"/></linearGradient></defs>
<rect x="1176.0" y="19.25" width="32.799999999999955" height="649.15" fill="url(#cb)" stroke="#000" stroke-width="2.4"/>
<text x="1233.2" y="28.75" text-anchor="start" font-size="29" font-weight="normal">2</text>
<text x="1233.2" y="109.89" text-anchor="start" font-size="29" font-weight="normal">1.5</text>
<text x="1233.2" y="191.04" text-anchor="start" font-size="29" font-weight="normal">1</text>
<text x="1233.2" y="272.18" text-anchor="start" font-size="29" font-weight="normal">0.5</text>
<text x="1233.2" y="353.32" text-anchor="start" font-size="29" font-weight="normal">0</text>
<text x="1233.2" y="434.47" text-anchor="start" font-size="29" font-weight="normal"><tspan dy="-2.7">–</tspan><tspan dy="2.7">0.5</tspan></text>
<text x="1233.2" y="515.61" text-anchor="start" font-size="29" font-weight="normal"><tspan dy="-2.7">–</tspan><tspan dy="2.7">1</tspan></text>
<text x="1233.2" y="596.76" text-anchor="start" font-size="29" font-weight="normal"><tspan dy="-2.7">–</tspan><tspan dy="2.7">1.5</tspan></text>
<text x="1233.2" y="677.9" text-anchor="start" font-size="29" font-weight="normal"><tspan dy="-2.7">–</tspan><tspan dy="2.7">2</tspan></text>
<path d="M1208.8 19.25H1218.8M1208.8 100.39H1218.8M1208.8 181.54H1218.8M1208.8 262.68H1218.8M1208.8 343.82H1218.8M1208.8 424.97H1218.8M1208.8 506.11H1218.8M1208.8 587.26H1218.8M1208.8 668.40H1218.8" stroke="#000" stroke-width="2" fill="none"/>
<text x="1318.3" y="349.9" text-anchor="middle" font-size="29" font-weight="normal" transform="rotate(90 1318.3 349.9)">Apparent fitness score</text>
<text x="506.5" y="855.2" text-anchor="start" font-size="42" font-weight="bold">c</text>
<defs><clipPath id="cclip"><rect x="564" y="845.4" width="743.6" height="479.4"/></clipPath><linearGradient id="s3" gradientUnits="userSpaceOnUse" x1="1030.0" y1="1010.0" x2="1130.0" y2="930.0"><stop offset="0" stop-color="#666666"/><stop offset="0.5" stop-color="#747474"/><stop offset="1" stop-color="#868686"/></linearGradient><linearGradient id="blk" gradientUnits="userSpaceOnUse" x1="1045.0" y1="868.0" x2="1058.0" y2="948.0"><stop offset="0" stop-color="#adadad"/><stop offset="0.45" stop-color="#959595"/><stop offset="1" stop-color="#666666"/></linearGradient><linearGradient id="r2" gradientUnits="userSpaceOnUse" x1="1236.0" y1="935.0" x2="1198.0" y2="968.0"><stop offset="0" stop-color="#8e8e8e"/><stop offset="0.55" stop-color="#8a8a8a"/><stop offset="0.8" stop-color="#a8a8a8"/><stop offset="0.92" stop-color="#f0f0f0"/><stop offset="1" stop-color="#b0b0b0"/></linearGradient><linearGradient id="br" gradientUnits="userSpaceOnUse" x1="1160.0" y1="852.0" x2="1168.0" y2="990.0"><stop offset="0" stop-color="#747474"/><stop offset="0.2" stop-color="#909090"/><stop offset="0.3" stop-color="#a8a8a8"/><stop offset="0.355" stop-color="#b4b4b4"/><stop offset="0.41" stop-color="#a8a8a8"/><stop offset="0.5" stop-color="#a4a4a4"/><stop offset="0.75" stop-color="#8c8c8c"/><stop offset="0.9" stop-color="#6c6c6c"/><stop offset="1" stop-color="#585858"/></linearGradient><linearGradient id="brl" gradientUnits="userSpaceOnUse" x1="1128.0" y1="900.0" x2="1152.0" y2="900.0"><stop offset="0" stop-color="#9a9a9a"/><stop offset="1" stop-color="#9a9a9a"/></linearGradient><linearGradient id="brl2" gradientUnits="userSpaceOnUse" x1="1130" y1="900" x2="1150" y2="898"><stop offset="0" stop-color="#a2a2a2" stop-opacity="0.95"/><stop offset="1" stop-color="#a2a2a2" stop-opacity="0"/></linearGradient><linearGradient id="bl" gradientUnits="userSpaceOnUse" x1="1130.0" y1="866.0" x2="1082.0" y2="950.0"><stop offset="0" stop-color="#565656"/><stop offset="0.3" stop-color="#6e6e6e"/><stop offset="0.55" stop-color="#909090"/><stop offset="0.75" stop-color="#a8a8a8"/><stop offset="1" stop-color="#8c8c8c"/></linearGradient><radialGradient id="blh" gradientUnits="userSpaceOnUse" cx="0" cy="0" r="1" gradientTransform="translate(1086.5 922) rotate(-52) scale(22 8.5)"><stop offset="0" stop-color="#fff" stop-opacity="1"/><stop offset="0.45" stop-color="#fff" stop-opacity="0.9"/><stop offset="1" stop-color="#fff" stop-opacity="0"/></radialGradient><radialGradient id="brh" gradientUnits="userSpaceOnUse" cx="0" cy="0" r="1" gradientTransform="translate(1166 902) rotate(4) scale(26 10)"><stop offset="0" stop-color="#fff" stop-opacity="1"/><stop offset="0.55" stop-color="#fff" stop-opacity="0.92"/><stop offset="1" stop-color="#fff" stop-opacity="0"/></radialGradient><linearGradient id="hf" gradientUnits="userSpaceOnUse" x1="600.0" y1="900.0" x2="720.0" y2="1000.0"><stop offset="0" stop-color="#a6a6a6"/><stop offset="0.45" stop-color="#8f8f8f"/><stop offset="1" stop-color="#616161"/></linearGradient><linearGradient id="b12" gradientUnits="userSpaceOnUse" x1="686.0" y1="985.0" x2="728.0" y2="960.0"><stop offset="0" stop-color="#7e7e7e"/><stop offset="1" stop-color="#b4b4b4"/></linearGradient><linearGradient id="b23" gradientUnits="userSpaceOnUse" x1="784.0" y1="968.0" x2="822.0" y2="940.0"><stop offset="0" stop-color="#7e7e7e"/><stop offset="1" stop-color="#b4b4b4"/></linearGradient><linearGradient id="b34" gradientUnits="userSpaceOnUse" x1="872.0" y1="940.0" x2="912.0" y2="910.0"><stop offset="0" stop-color="#7e7e7e"/><stop offset="1" stop-color="#b4b4b4"/></linearGradient><linearGradient id="l1" gradientUnits="userSpaceOnUse" x1="648.0" y1="910.0" x2="672.0" y2="960.0"><stop offset="0" stop-color="#353535"/><stop offset="0.5" stop-color="#6a6a6a"/><stop offset="1" stop-color="#9a9a9a"/></linearGradient><linearGradient id="l2" gradientUnits="userSpaceOnUse" x1="738.0" y1="898.0" x2="750.0" y2="935.0"><stop offset="0" stop-color="#353535"/><stop offset="0.5" stop-color="#6a6a6a"/><stop offset="1" stop-color="#9a9a9a"/></linearGradient><linearGradient id="l3" gradientUnits="userSpaceOnUse" x1="825.0" y1="868.0" x2="836.0" y2="900.0"><stop offset="0" stop-color="#353535"/><stop offset="0.5" stop-color="#6a6a6a"/><stop offset="1" stop-color="#9a9a9a"/></linearGradient><linearGradient id="l4" gradientUnits="userSpaceOnUse" x1="918.0" y1="848.0" x2="932.0" y2="880.0"><stop offset="0" stop-color="#353535"/><stop offset="0.5" stop-color="#6a6a6a"/><stop offset="1" stop-color="#9a9a9a"/></linearGradient><linearGradient id="f1" gradientUnits="userSpaceOnUse" x1="612.0" y1="905.0" x2="700.0" y2="1000.0"><stop offset="0" stop-color="#a8a8a8"/><stop offset="0.35" stop-color="#969696"/><stop offset="0.75" stop-color="#808080"/><stop offset="1" stop-color="#686868"/></linearGradient><linearGradient id="f2" gradientUnits="userSpaceOnUse" x1="695.0" y1="892.0" x2="790.0" y2="992.0"><stop offset="0" stop-color="#a8a8a8"/><stop offset="0.35" stop-color="#969696"/><stop offset="0.75" stop-color="#808080"/><stop offset="1" stop-color="#686868"/></linearGradient><linearGradient id="f3" gradientUnits="userSpaceOnUse" x1="782.0" y1="866.0" x2="890.0" y2="966.0"><stop offset="0" stop-color="#a8a8a8"/><stop offset="0.35" stop-color="#969696"/><stop offset="0.75" stop-color="#808080"/><stop offset="1" stop-color="#686868"/></linearGradient><linearGradient id="f4" gradientUnits="userSpaceOnUse" x1="872.0" y1="850.0" x2="935.0" y2="925.0"><stop offset="0" stop-color="#9c9c9c"/><stop offset="0.5" stop-color="#8a8a8a"/><stop offset="1" stop-color="#747474"/></linearGradient><linearGradient id="fan" gradientUnits="userSpaceOnUse" x1="905.0" y1="1100.0" x2="1310.0" y2="1060.0"><stop offset="0" stop-color="#7c7c7c"/><stop offset="0.4" stop-color="#828282"/><stop offset="0.48" stop-color="#8e8e8e"/><stop offset="0.62" stop-color="#a2a2a2"/><stop offset="0.76" stop-color="#a9a9a9"/><stop offset="0.82" stop-color="#f4f4f4"/><stop offset="0.87" stop-color="#f6f6f6"/><stop offset="0.93" stop-color="#b0b0b0"/><stop offset="1" stop-color="#9a9a9a"/></linearGradient><linearGradient id="L2" gradientUnits="userSpaceOnUse" x1="905.0" y1="1140.0" x2="1230.0" y2="1095.0"><stop offset="0" stop-color="#b4b4b4"/><stop offset="0.4" stop-color="#a6a6a6"/><stop offset="0.7" stop-color="#7c7c7c"/><stop offset="1" stop-color="#8a8a8a"/></linearGradient><linearGradient id="D2" gradientUnits="userSpaceOnUse" x1="905.0" y1="1140.0" x2="1230.0" y2="1090.0"><stop offset="0" stop-color="#8a8a8a"/><stop offset="0.25" stop-color="#747474"/><stop offset="0.6" stop-color="#6e6e6e"/><stop offset="1" stop-color="#8c8c8c"/></linearGradient><linearGradient id="stp" gradientUnits="userSpaceOnUse" x1="945.0" y1="1125.0" x2="1105.0" y2="1083.0"><stop offset="0" stop-color="#cfcfcf"/><stop offset="0.3" stop-color="#ffffff"/><stop offset="0.75" stop-color="#f2f2f2"/><stop offset="1" stop-color="#c4c4c4"/></linearGradient><linearGradient id="arw" gradientUnits="userSpaceOnUse" x1="1040.0" y1="1055.0" x2="1085.0" y2="1085.0"><stop offset="0" stop-color="#868686"/><stop offset="1" stop-color="#a6a6a6"/></linearGradient><linearGradient id="g1" gradientUnits="userSpaceOnUse" x1="676.0" y1="1215.0" x2="870.0" y2="1170.0"><stop offset="0" stop-color="#7c7c7c"/><stop offset="0.35" stop-color="#5c5c5c"/><stop offset="0.8" stop-color="#3c3c3c"/><stop offset="1" stop-color="#4a4a4a"/></linearGradient><linearGradient id="g1t" gradientUnits="userSpaceOnUse" x1="676.0" y1="1210.0" x2="860.0" y2="1170.0"><stop offset="0" stop-color="#9c9c9c"/><stop offset="0.45" stop-color="#e9e9e9"/><stop offset="1" stop-color="#a5a5a5"/></linearGradient><linearGradient id="g2" gradientUnits="userSpaceOnUse" x1="793.0" y1="1225.0" x2="870.0" y2="1170.0"><stop offset="0" stop-color="#9a9a9a"/><stop offset="0.5" stop-color="#c4c4c4"/><stop offset="1" stop-color="#e0e0e0"/></linearGradient><linearGradient id="bs_r" gradientUnits="userSpaceOnUse" x1="940.0" y1="1140.0" x2="1310.0" y2="1135.0"><stop offset="0" stop-color="#cfeaf6"/><stop offset="0.3" stop-color="#b9dcec"/><stop offset="0.7" stop-color="#a9cfe1"/><stop offset="1" stop-color="#a3c9db"/></linearGradient><linearGradient id="bs_w" gradientUnits="userSpaceOnUse" x1="1040.0" y1="1135.0" x2="1250.0" y2="1125.0"><stop offset="0" stop-color="#3f5562"/><stop offset="0.35" stop-color="#5f7d8d"/><stop offset="0.75" stop-color="#8fb3c5"/><stop offset="1" stop-color="#a6ccde"/></linearGradient><linearGradient id="bs_l" gradientUnits="userSpaceOnUse" x1="700.0" y1="1155.0" x2="980.0" y2="1155.0"><stop offset="0" stop-color="#bfe1f0"/><stop offset="0.4" stop-color="#c6e5f3"/><stop offset="0.7" stop-color="#d4edf8"/><stop offset="1" stop-color="#cfeaf6"/></linearGradient><linearGradient id="bs_d" gradientUnits="userSpaceOnUse" x1="735.0" y1="1160.0" x2="860.0" y2="1158.0"><stop offset="0" stop-color="#c2e3f1"/><stop offset="0.35" stop-color="#7f9fb0"/><stop offset="0.7" stop-color="#4c6473"/><stop offset="1" stop-color="#2f3f4a"/></linearGradient><linearGradient id="bs_h" gradientUnits="userSpaceOnUse" x1="642.0" y1="1156.0" x2="706.0" y2="1156.0"><stop offset="0" stop-color="#d8f0fa"/><stop offset="0.45" stop-color="#eefaff"/><stop offset="1" stop-color="#b4d9ea"/></linearGradient></defs>
<g clip-path="url(#cclip)">
<path d="M629.1 980.7C622.6 982.2 620.6 978.7 609.7 985.2C598.8 991.7 601.3 990.1 596.3 1000.1C591.3 1010.1 591.3 1003.1 594.8 1015.1C598.3 1027.1 601.2 1024.1 606.7 1036.0C612.2 1047.9 612.2 1041.0 611.2 1050.9C610.2 1060.8 613.8 1055.1 603.7 1065.8C593.6 1076.5 592.9 1072.9 581.0 1083.0C569.1 1093.1 573.2 1087.4 568.0 1096.0C562.8 1104.6 562.5 1097.6 565.5 1108.8C568.5 1120.0 564.2 1117.8 576.9 1129.7C589.6 1141.6 587.8 1135.6 603.7 1144.6C619.6 1153.6 611.7 1152.6 624.6 1156.6C637.5 1160.6 636.5 1156.6 642.5 1156.6" fill="none" stroke="#747474" stroke-width="6.8" stroke-linecap="round" stroke-linejoin="round"/>
<path d="M629.1 980.7C622.6 982.2 620.6 978.7 609.7 985.2C598.8 991.7 601.3 990.1 596.3 1000.1C591.3 1010.1 591.3 1003.1 594.8 1015.1C598.3 1027.1 601.2 1024.1 606.7 1036.0C612.2 1047.9 612.2 1041.0 611.2 1050.9C610.2 1060.8 613.8 1055.1 603.7 1065.8C593.6 1076.5 592.9 1072.9 581.0 1083.0C569.1 1093.1 573.2 1087.4 568.0 1096.0C562.8 1104.6 562.5 1097.6 565.5 1108.8C568.5 1120.0 564.2 1117.8 576.9 1129.7C589.6 1141.6 587.8 1135.6 603.7 1144.6C619.6 1153.6 611.7 1152.6 624.6 1156.6C637.5 1160.6 636.5 1156.6 642.5 1156.6" fill="none" stroke="#a4a4a4" stroke-width="5.199999999999999" stroke-linecap="round" stroke-linejoin="round"/>
<path d="M629.1 980.7C622.6 982.2 620.6 978.7 609.7 985.2C598.8 991.7 601.3 990.1 596.3 1000.1C591.3 1010.1 591.3 1003.1 594.8 1015.1C598.3 1027.1 601.2 1024.1 606.7 1036.0C612.2 1047.9 612.2 1041.0 611.2 1050.9C610.2 1060.8 613.8 1055.1 603.7 1065.8C593.6 1076.5 592.9 1072.9 581.0 1083.0C569.1 1093.1 573.2 1087.4 568.0 1096.0C562.8 1104.6 562.5 1097.6 565.5 1108.8C568.5 1120.0 564.2 1117.8 576.9 1129.7C589.6 1141.6 587.8 1135.6 603.7 1144.6C619.6 1153.6 611.7 1152.6 624.6 1156.6C637.5 1160.6 636.5 1156.6 642.5 1156.6" fill="none" stroke="#bebebe" stroke-width="2.3999999999999995" stroke-linecap="round" stroke-linejoin="round"/>
<path d="M827.6 961.3C830.6 966.3 829.6 968.5 836.6 976.3C843.6 984.1 842.9 985.4 848.5 984.7C854.1 984.0 847.5 977.1 853.5 974.3C859.5 971.5 856.1 970.7 866.4 976.3C876.7 981.9 873.3 981.8 884.3 991.2C895.3 1000.6 889.3 999.6 899.3 1004.6C909.3 1009.6 905.3 1008.6 914.2 1006.1C923.1 1003.6 919.2 1006.5 926.1 997.2C933.0 987.9 927.0 990.6 934.9 978.3C942.8 966.0 938.0 969.4 949.9 960.4C961.8 951.4 955.8 956.4 970.7 951.4C985.6 946.4 983.6 951.4 994.6 945.4C1005.6 939.4 999.6 943.4 1003.6 933.5C1007.6 923.6 1005.6 921.6 1006.6 915.6" fill="none" stroke="#747474" stroke-width="6.8" stroke-linecap="round" stroke-linejoin="round"/>
<path d="M827.6 961.3C830.6 966.3 829.6 968.5 836.6 976.3C843.6 984.1 842.9 985.4 848.5 984.7C854.1 984.0 847.5 977.1 853.5 974.3C859.5 971.5 856.1 970.7 866.4 976.3C876.7 981.9 873.3 981.8 884.3 991.2C895.3 1000.6 889.3 999.6 899.3 1004.6C909.3 1009.6 905.3 1008.6 914.2 1006.1C923.1 1003.6 919.2 1006.5 926.1 997.2C933.0 987.9 927.0 990.6 934.9 978.3C942.8 966.0 938.0 969.4 949.9 960.4C961.8 951.4 955.8 956.4 970.7 951.4C985.6 946.4 983.6 951.4 994.6 945.4C1005.6 939.4 999.6 943.4 1003.6 933.5C1007.6 923.6 1005.6 921.6 1006.6 915.6" fill="none" stroke="#a4a4a4" stroke-width="5.199999999999999" stroke-linecap="round" stroke-linejoin="round"/>
<path d="M827.6 961.3C830.6 966.3 829.6 968.5 836.6 976.3C843.6 984.1 842.9 985.4 848.5 984.7C854.1 984.0 847.5 977.1 853.5 974.3C859.5 971.5 856.1 970.7 866.4 976.3C876.7 981.9 873.3 981.8 884.3 991.2C895.3 1000.6 889.3 999.6 899.3 1004.6C909.3 1009.6 905.3 1008.6 914.2 1006.1C923.1 1003.6 919.2 1006.5 926.1 997.2C933.0 987.9 927.0 990.6 934.9 978.3C942.8 966.0 938.0 969.4 949.9 960.4C961.8 951.4 955.8 956.4 970.7 951.4C985.6 946.4 983.6 951.4 994.6 945.4C1005.6 939.4 999.6 943.4 1003.6 933.5C1007.6 923.6 1005.6 921.6 1006.6 915.6" fill="none" stroke="#bebebe" stroke-width="2.3999999999999995" stroke-linecap="round" stroke-linejoin="round"/>
<path d="M984.2 846.0C987.2 852.3 989.6 850.7 993.1 864.9C996.6 879.1 999.1 874.8 994.6 888.7C990.1 902.6 991.9 897.7 979.7 906.6C967.5 915.5 971.2 913.0 958.0 915.5C944.8 918.0 950.7 916.2 940.0 914.0C929.3 911.8 930.7 910.7 926.0 909.0" fill="none" stroke="#747474" stroke-width="6.8" stroke-linecap="round" stroke-linejoin="round"/>
<path d="M984.2 846.0C987.2 852.3 989.6 850.7 993.1 864.9C996.6 879.1 999.1 874.8 994.6 888.7C990.1 902.6 991.9 897.7 979.7 906.6C967.5 915.5 971.2 913.0 958.0 915.5C944.8 918.0 950.7 916.2 940.0 914.0C929.3 911.8 930.7 910.7 926.0 909.0" fill="none" stroke="#a4a4a4" stroke-width="5.199999999999999" stroke-linecap="round" stroke-linejoin="round"/>
<path d="M984.2 846.0C987.2 852.3 989.6 850.7 993.1 864.9C996.6 879.1 999.1 874.8 994.6 888.7C990.1 902.6 991.9 897.7 979.7 906.6C967.5 915.5 971.2 913.0 958.0 915.5C944.8 918.0 950.7 916.2 940.0 914.0C929.3 911.8 930.7 910.7 926.0 909.0" fill="none" stroke="#bebebe" stroke-width="2.3999999999999995" stroke-linecap="round" stroke-linejoin="round"/>
<path d="M1030.4 846.0C1034.9 850.3 1037.9 850.2 1043.9 858.9C1049.9 867.6 1046.9 867.6 1048.4 872.0" fill="none" stroke="#747474" stroke-width="6.8" stroke-linecap="round" stroke-linejoin="round"/>
<path d="M1030.4 846.0C1034.9 850.3 1037.9 850.2 1043.9 858.9C1049.9 867.6 1046.9 867.6 1048.4 872.0" fill="none" stroke="#a4a4a4" stroke-width="5.199999999999999" stroke-linecap="round" stroke-linejoin="round"/>
<path d="M1030.4 846.0C1034.9 850.3 1037.9 850.2 1043.9 858.9C1049.9 867.6 1046.9 867.6 1048.4 872.0" fill="none" stroke="#bebebe" stroke-width="2.3999999999999995" stroke-linecap="round" stroke-linejoin="round"/>
<path d="M1114.0 846.0C1115.0 849.0 1116.0 852.0 1117.0 855.0" fill="none" stroke="#747474" stroke-width="6.8" stroke-linecap="round" stroke-linejoin="round"/>
<path d="M1114.0 846.0C1115.0 849.0 1116.0 852.0 1117.0 855.0" fill="none" stroke="#a4a4a4" stroke-width="5.199999999999999" stroke-linecap="round" stroke-linejoin="round"/>
<path d="M1114.0 846.0C1115.0 849.0 1116.0 852.0 1117.0 855.0" fill="none" stroke="#bebebe" stroke-width="2.3999999999999995" stroke-linecap="round" stroke-linejoin="round"/>
<path d="M1158.8 846.0C1157.8 850.3 1158.7 852.6 1155.8 858.9C1152.9 865.2 1151.9 863.0 1150.0 865.0" fill="none" stroke="#747474" stroke-width="6.8" stroke-linecap="round" stroke-linejoin="round"/>
<path d="M1158.8 846.0C1157.8 850.3 1158.7 852.6 1155.8 858.9C1152.9 865.2 1151.9 863.0 1150.0 865.0" fill="none" stroke="#a4a4a4" stroke-width="5.199999999999999" stroke-linecap="round" stroke-linejoin="round"/>
<path d="M1158.8 846.0C1157.8 850.3 1158.7 852.6 1155.8 858.9C1152.9 865.2 1151.9 863.0 1150.0 865.0" fill="none" stroke="#bebebe" stroke-width="2.3999999999999995" stroke-linecap="round" stroke-linejoin="round"/>
<path d="M1134.9 999.2C1132.9 1004.2 1133.5 1004.2 1129.0 1014.1C1124.5 1024.0 1126.5 1019.0 1121.5 1029.0C1116.5 1039.0 1123.0 1035.0 1114.0 1044.0C1105.0 1053.0 1101.1 1051.9 1094.6 1055.9" fill="none" stroke="#747474" stroke-width="6.8" stroke-linecap="round" stroke-linejoin="round"/>
<path d="M1134.9 999.2C1132.9 1004.2 1133.5 1004.2 1129.0 1014.1C1124.5 1024.0 1126.5 1019.0 1121.5 1029.0C1116.5 1039.0 1123.0 1035.0 1114.0 1044.0C1105.0 1053.0 1101.1 1051.9 1094.6 1055.9" fill="none" stroke="#a4a4a4" stroke-width="5.199999999999999" stroke-linecap="round" stroke-linejoin="round"/>
<path d="M1134.9 999.2C1132.9 1004.2 1133.5 1004.2 1129.0 1014.1C1124.5 1024.0 1126.5 1019.0 1121.5 1029.0C1116.5 1039.0 1123.0 1035.0 1114.0 1044.0C1105.0 1053.0 1101.1 1051.9 1094.6 1055.9" fill="none" stroke="#bebebe" stroke-width="2.3999999999999995" stroke-linecap="round" stroke-linejoin="round"/>
<path d="M1134.9 999.2C1138.9 997.7 1135.9 995.2 1146.9 994.7C1157.9 994.2 1153.9 991.2 1167.8 997.7C1181.7 1004.2 1175.8 1001.7 1188.7 1014.1C1201.6 1026.5 1196.7 1022.1 1206.6 1035.0C1216.5 1047.9 1212.5 1043.9 1218.5 1052.9C1224.5 1061.9 1222.5 1058.9 1224.5 1061.9" fill="none" stroke="#747474" stroke-width="6.8" stroke-linecap="round" stroke-linejoin="round"/>
<path d="M1134.9 999.2C1138.9 997.7 1135.9 995.2 1146.9 994.7C1157.9 994.2 1153.9 991.2 1167.8 997.7C1181.7 1004.2 1175.8 1001.7 1188.7 1014.1C1201.6 1026.5 1196.7 1022.1 1206.6 1035.0C1216.5 1047.9 1212.5 1043.9 1218.5 1052.9C1224.5 1061.9 1222.5 1058.9 1224.5 1061.9" fill="none" stroke="#a4a4a4" stroke-width="5.199999999999999" stroke-linecap="round" stroke-linejoin="round"/>
<path d="M1134.9 999.2C1138.9 997.7 1135.9 995.2 1146.9 994.7C1157.9 994.2 1153.9 991.2 1167.8 997.7C1181.7 1004.2 1175.8 1001.7 1188.7 1014.1C1201.6 1026.5 1196.7 1022.1 1206.6 1035.0C1216.5 1047.9 1212.5 1043.9 1218.5 1052.9C1224.5 1061.9 1222.5 1058.9 1224.5 1061.9" fill="none" stroke="#bebebe" stroke-width="2.3999999999999995" stroke-linecap="round" stroke-linejoin="round"/>
<path d="M1218.5 912.6C1223.5 908.6 1224.4 905.2 1233.4 900.7C1242.4 896.2 1232.5 896.2 1245.4 899.2C1258.3 902.2 1258.8 898.2 1272.2 909.6C1285.6 921.0 1278.7 915.6 1285.7 933.5C1292.7 951.4 1291.6 940.5 1293.1 963.4C1294.6 986.3 1293.6 987.8 1290.1 1002.2C1286.6 1016.6 1288.7 1008.6 1282.7 1006.6C1276.7 1004.6 1280.7 1002.7 1272.2 996.2C1263.7 989.7 1267.2 987.2 1257.3 987.2C1247.4 987.2 1253.3 987.2 1242.4 996.2C1231.5 1005.2 1236.4 1003.2 1224.5 1014.1C1212.6 1025.0 1218.5 1022.0 1206.6 1029.0C1194.7 1036.0 1202.6 1035.0 1188.7 1035.0C1174.8 1035.0 1178.7 1035.0 1164.8 1029.0C1150.9 1023.0 1157.7 1026.8 1146.9 1017.1C1136.1 1007.4 1137.3 1005.7 1132.5 1000.0" fill="none" stroke="#747474" stroke-width="7.4" stroke-linecap="round" stroke-linejoin="round"/>
<path d="M1218.5 912.6C1223.5 908.6 1224.4 905.2 1233.4 900.7C1242.4 896.2 1232.5 896.2 1245.4 899.2C1258.3 902.2 1258.8 898.2 1272.2 909.6C1285.6 921.0 1278.7 915.6 1285.7 933.5C1292.7 951.4 1291.6 940.5 1293.1 963.4C1294.6 986.3 1293.6 987.8 1290.1 1002.2C1286.6 1016.6 1288.7 1008.6 1282.7 1006.6C1276.7 1004.6 1280.7 1002.7 1272.2 996.2C1263.7 989.7 1267.2 987.2 1257.3 987.2C1247.4 987.2 1253.3 987.2 1242.4 996.2C1231.5 1005.2 1236.4 1003.2 1224.5 1014.1C1212.6 1025.0 1218.5 1022.0 1206.6 1029.0C1194.7 1036.0 1202.6 1035.0 1188.7 1035.0C1174.8 1035.0 1178.7 1035.0 1164.8 1029.0C1150.9 1023.0 1157.7 1026.8 1146.9 1017.1C1136.1 1007.4 1137.3 1005.7 1132.5 1000.0" fill="none" stroke="#a4a4a4" stroke-width="5.800000000000001" stroke-linecap="round" stroke-linejoin="round"/>
<path d="M1218.5 912.6C1223.5 908.6 1224.4 905.2 1233.4 900.7C1242.4 896.2 1232.5 896.2 1245.4 899.2C1258.3 902.2 1258.8 898.2 1272.2 909.6C1285.6 921.0 1278.7 915.6 1285.7 933.5C1292.7 951.4 1291.6 940.5 1293.1 963.4C1294.6 986.3 1293.6 987.8 1290.1 1002.2C1286.6 1016.6 1288.7 1008.6 1282.7 1006.6C1276.7 1004.6 1280.7 1002.7 1272.2 996.2C1263.7 989.7 1267.2 987.2 1257.3 987.2C1247.4 987.2 1253.3 987.2 1242.4 996.2C1231.5 1005.2 1236.4 1003.2 1224.5 1014.1C1212.6 1025.0 1218.5 1022.0 1206.6 1029.0C1194.7 1036.0 1202.6 1035.0 1188.7 1035.0C1174.8 1035.0 1178.7 1035.0 1164.8 1029.0C1150.9 1023.0 1157.7 1026.8 1146.9 1017.1C1136.1 1007.4 1137.3 1005.7 1132.5 1000.0" fill="none" stroke="#bebebe" stroke-width="3.0" stroke-linecap="round" stroke-linejoin="round"/>
<path d="M1120.0 1073.8C1125.0 1067.8 1123.0 1064.4 1134.9 1055.9C1146.8 1047.4 1144.8 1050.4 1155.8 1048.4C1166.8 1046.4 1161.8 1046.4 1167.8 1049.9C1173.8 1053.4 1169.7 1053.5 1173.7 1058.9C1177.7 1064.3 1177.7 1063.6 1179.7 1066.0" fill="none" stroke="#747474" stroke-width="6.8" stroke-linecap="round" stroke-linejoin="round"/>
<path d="M1120.0 1073.8C1125.0 1067.8 1123.0 1064.4 1134.9 1055.9C1146.8 1047.4 1144.8 1050.4 1155.8 1048.4C1166.8 1046.4 1161.8 1046.4 1167.8 1049.9C1173.8 1053.4 1169.7 1053.5 1173.7 1058.9C1177.7 1064.3 1177.7 1063.6 1179.7 1066.0" fill="none" stroke="#a4a4a4" stroke-width="5.199999999999999" stroke-linecap="round" stroke-linejoin="round"/>
<path d="M1120.0 1073.8C1125.0 1067.8 1123.0 1064.4 1134.9 1055.9C1146.8 1047.4 1144.8 1050.4 1155.8 1048.4C1166.8 1046.4 1161.8 1046.4 1167.8 1049.9C1173.8 1053.4 1169.7 1053.5 1173.7 1058.9C1177.7 1064.3 1177.7 1063.6 1179.7 1066.0" fill="none" stroke="#bebebe" stroke-width="2.3999999999999995" stroke-linecap="round" stroke-linejoin="round"/>
<path d="M1188.7 1117.8C1190.7 1114.8 1184.7 1116.8 1194.6 1108.8C1204.5 1100.8 1210.5 1098.9 1218.5 1093.9" fill="none" stroke="#747474" stroke-width="5.6" stroke-linecap="round" stroke-linejoin="round"/>
<path d="M1188.7 1117.8C1190.7 1114.8 1184.7 1116.8 1194.6 1108.8C1204.5 1100.8 1210.5 1098.9 1218.5 1093.9" fill="none" stroke="#a4a4a4" stroke-width="3.9999999999999996" stroke-linecap="round" stroke-linejoin="round"/>
<path d="M1188.7 1117.8C1190.7 1114.8 1184.7 1116.8 1194.6 1108.8C1204.5 1100.8 1210.5 1098.9 1218.5 1093.9" fill="none" stroke="#bebebe" stroke-width="1.1999999999999993" stroke-linecap="round" stroke-linejoin="round"/>
<path d="M1248.4 1087.9C1250.9 1091.9 1252.8 1089.9 1255.8 1099.9C1258.8 1109.9 1256.8 1111.8 1257.3 1117.8" fill="none" stroke="#747474" stroke-width="5.6" stroke-linecap="round" stroke-linejoin="round"/>
<path d="M1248.4 1087.9C1250.9 1091.9 1252.8 1089.9 1255.8 1099.9C1258.8 1109.9 1256.8 1111.8 1257.3 1117.8" fill="none" stroke="#a4a4a4" stroke-width="3.9999999999999996" stroke-linecap="round" stroke-linejoin="round"/>
<path d="M1248.4 1087.9C1250.9 1091.9 1252.8 1089.9 1255.8 1099.9C1258.8 1109.9 1256.8 1111.8 1257.3 1117.8" fill="none" stroke="#bebebe" stroke-width="1.1999999999999993" stroke-linecap="round" stroke-linejoin="round"/>
<path d="M678.4 1220.7C668.4 1222.2 667.4 1220.7 648.5 1225.2C629.6 1229.7 634.5 1224.2 621.6 1234.2C608.7 1244.2 613.2 1240.2 609.7 1255.1C606.2 1270.0 605.2 1264.1 611.2 1279.0C617.2 1293.9 614.2 1289.5 627.6 1299.9C641.0 1310.3 629.6 1308.3 651.5 1310.3C673.4 1312.3 667.4 1310.3 693.3 1305.8C719.2 1301.3 711.2 1305.8 729.1 1296.9C747.0 1288.0 742.0 1291.0 747.0 1279.0C752.0 1267.0 749.0 1271.0 744.0 1261.0C739.0 1251.0 737.1 1256.1 732.1 1249.1C727.1 1242.1 726.1 1246.1 729.1 1240.1C732.1 1234.1 727.1 1235.7 741.0 1231.2C754.9 1226.7 753.5 1229.5 770.9 1226.7C788.3 1223.9 785.8 1224.1 793.3 1222.8" fill="none" stroke="#747474" stroke-width="6.8" stroke-linecap="round" stroke-linejoin="round"/>
<path d="M678.4 1220.7C668.4 1222.2 667.4 1220.7 648.5 1225.2C629.6 1229.7 634.5 1224.2 621.6 1234.2C608.7 1244.2 613.2 1240.2 609.7 1255.1C606.2 1270.0 605.2 1264.1 611.2 1279.0C617.2 1293.9 614.2 1289.5 627.6 1299.9C641.0 1310.3 629.6 1308.3 651.5 1310.3C673.4 1312.3 667.4 1310.3 693.3 1305.8C719.2 1301.3 711.2 1305.8 729.1 1296.9C747.0 1288.0 742.0 1291.0 747.0 1279.0C752.0 1267.0 749.0 1271.0 744.0 1261.0C739.0 1251.0 737.1 1256.1 732.1 1249.1C727.1 1242.1 726.1 1246.1 729.1 1240.1C732.1 1234.1 727.1 1235.7 741.0 1231.2C754.9 1226.7 753.5 1229.5 770.9 1226.7C788.3 1223.9 785.8 1224.1 793.3 1222.8" fill="none" stroke="#a4a4a4" stroke-width="5.199999999999999" stroke-linecap="round" stroke-linejoin="round"/>
<path d="M678.4 1220.7C668.4 1222.2 667.4 1220.7 648.5 1225.2C629.6 1229.7 634.5 1224.2 621.6 1234.2C608.7 1244.2 613.2 1240.2 609.7 1255.1C606.2 1270.0 605.2 1264.1 611.2 1279.0C617.2 1293.9 614.2 1289.5 627.6 1299.9C641.0 1310.3 629.6 1308.3 651.5 1310.3C673.4 1312.3 667.4 1310.3 693.3 1305.8C719.2 1301.3 711.2 1305.8 729.1 1296.9C747.0 1288.0 742.0 1291.0 747.0 1279.0C752.0 1267.0 749.0 1271.0 744.0 1261.0C739.0 1251.0 737.1 1256.1 732.1 1249.1C727.1 1242.1 726.1 1246.1 729.1 1240.1C732.1 1234.1 727.1 1235.7 741.0 1231.2C754.9 1226.7 753.5 1229.5 770.9 1226.7C788.3 1223.9 785.8 1224.1 793.3 1222.8" fill="none" stroke="#bebebe" stroke-width="2.3999999999999995" stroke-linecap="round" stroke-linejoin="round"/>
<path d="M936.0 1150.0C936.7 1156.2 941.3 1157.4 938.0 1168.5C934.7 1179.6 937.1 1176.9 926.1 1183.4C915.1 1189.9 915.4 1184.1 905.0 1188.0C894.6 1191.9 898.9 1187.6 895.0 1195.0C891.1 1202.4 889.9 1198.2 893.3 1210.3C896.7 1222.4 894.3 1221.7 905.2 1231.2C916.1 1240.7 914.2 1238.4 926.1 1238.7C938.0 1239.0 932.7 1238.2 941.0 1232.0C949.3 1225.8 945.6 1231.2 951.0 1220.0C956.4 1208.8 956.7 1213.6 957.3 1198.4C957.9 1183.2 957.9 1190.6 952.8 1174.5C947.7 1158.4 945.6 1158.2 942.0 1150.0" fill="none" stroke="#747474" stroke-width="6.8" stroke-linecap="round" stroke-linejoin="round"/>
<path d="M936.0 1150.0C936.7 1156.2 941.3 1157.4 938.0 1168.5C934.7 1179.6 937.1 1176.9 926.1 1183.4C915.1 1189.9 915.4 1184.1 905.0 1188.0C894.6 1191.9 898.9 1187.6 895.0 1195.0C891.1 1202.4 889.9 1198.2 893.3 1210.3C896.7 1222.4 894.3 1221.7 905.2 1231.2C916.1 1240.7 914.2 1238.4 926.1 1238.7C938.0 1239.0 932.7 1238.2 941.0 1232.0C949.3 1225.8 945.6 1231.2 951.0 1220.0C956.4 1208.8 956.7 1213.6 957.3 1198.4C957.9 1183.2 957.9 1190.6 952.8 1174.5C947.7 1158.4 945.6 1158.2 942.0 1150.0" fill="none" stroke="#a4a4a4" stroke-width="5.199999999999999" stroke-linecap="round" stroke-linejoin="round"/>
<path d="M936.0 1150.0C936.7 1156.2 941.3 1157.4 938.0 1168.5C934.7 1179.6 937.1 1176.9 926.1 1183.4C915.1 1189.9 915.4 1184.1 905.0 1188.0C894.6 1191.9 898.9 1187.6 895.0 1195.0C891.1 1202.4 889.9 1198.2 893.3 1210.3C896.7 1222.4 894.3 1221.7 905.2 1231.2C916.1 1240.7 914.2 1238.4 926.1 1238.7C938.0 1239.0 932.7 1238.2 941.0 1232.0C949.3 1225.8 945.6 1231.2 951.0 1220.0C956.4 1208.8 956.7 1213.6 957.3 1198.4C957.9 1183.2 957.9 1190.6 952.8 1174.5C947.7 1158.4 945.6 1158.2 942.0 1150.0" fill="none" stroke="#bebebe" stroke-width="2.3999999999999995" stroke-linecap="round" stroke-linejoin="round"/>
<path d="M934.0 1128.0C935.2 1125.4 934.0 1123.8 937.6 1120.3C941.2 1116.8 942.4 1118.5 944.8 1117.6" fill="none" stroke="#747474" stroke-width="5.6" stroke-linecap="round" stroke-linejoin="round"/>
<path d="M934.0 1128.0C935.2 1125.4 934.0 1123.8 937.6 1120.3C941.2 1116.8 942.4 1118.5 944.8 1117.6" fill="none" stroke="#a4a4a4" stroke-width="3.9999999999999996" stroke-linecap="round" stroke-linejoin="round"/>
<path d="M934.0 1128.0C935.2 1125.4 934.0 1123.8 937.6 1120.3C941.2 1116.8 942.4 1118.5 944.8 1117.6" fill="none" stroke="#bebebe" stroke-width="1.1999999999999993" stroke-linecap="round" stroke-linejoin="round"/>
<path d="M1137.8 908.5C1130.0 912.2 1132.3 910.0 1114.6 919.7C1097.0 929.4 1101.9 923.1 1084.8 937.6C1067.7 952.2 1076.4 945.8 1063.3 963.4C1050.1 980.9 1055.3 971.3 1045.4 990.2C1035.4 1009.1 1040.9 998.2 1033.4 1020.1C1026.0 1042.0 1029.5 1039.0 1023.0 1055.9C1016.5 1072.8 1017.0 1065.8 1014.0 1070.8L1019.1 1074.2C1021.0 1070.9 1018.9 1073.7 1024.8 1064.5C1030.6 1055.3 1029.8 1056.5 1036.7 1046.6C1043.7 1036.6 1037.7 1044.6 1045.7 1034.6C1053.6 1024.7 1050.6 1029.7 1060.6 1016.7C1070.5 1003.8 1065.1 1009.3 1075.5 995.8C1086.0 982.4 1079.0 988.4 1091.9 976.4C1104.9 964.5 1101.8 971.9 1114.3 960.0C1126.9 948.1 1121.0 949.1 1129.6 940.6C1138.1 932.1 1136.5 936.6 1140.0 934.6L1137.8 908.5Z" fill="url(#s3)" stroke="#555" stroke-width="0.8" stroke-linejoin="round"/>
<path d="M1024.8 1064.5C1028.8 1058.5 1029.8 1056.5 1036.7 1046.6C1043.7 1036.6 1037.7 1044.6 1045.7 1034.6C1053.6 1024.7 1050.6 1029.7 1060.6 1016.7C1070.5 1003.8 1065.1 1009.3 1075.5 995.8C1086.0 982.4 1086.5 982.9 1091.9 976.4L1088.2 984.6C1082.5 991.3 1082.2 991.1 1071.0 1004.8C1059.9 1018.5 1065.1 1012.2 1054.6 1025.7C1044.2 1039.1 1048.2 1032.6 1039.7 1045.1C1031.2 1057.5 1032.7 1057.0 1029.3 1063.0L1024.8 1064.5Z" fill="#9d9d9d" stroke="none" stroke-width="0.8" stroke-linejoin="round"/>
<path d="M1146.9 1017.1C1142.1 1011.4 1140.3 1010.1 1132.5 1000.0C1124.7 989.9 1128.1 995.8 1123.6 986.9C1119.1 978.0 1117.1 981.4 1119.1 973.4C1121.1 965.4 1121.1 969.0 1129.6 963.0C1138.1 957.0 1139.5 958.0 1144.5 955.5" fill="none" stroke="#3c3c3c" stroke-width="7.6" stroke-linecap="round" stroke-linejoin="round"/>
<path d="M1146.9 1017.1C1142.1 1011.4 1140.3 1010.1 1132.5 1000.0C1124.7 989.9 1128.1 995.8 1123.6 986.9C1119.1 978.0 1117.1 981.4 1119.1 973.4C1121.1 965.4 1121.1 969.0 1129.6 963.0C1138.1 957.0 1139.5 958.0 1144.5 955.5" fill="none" stroke="#5e5e5e" stroke-width="6.0" stroke-linecap="round" stroke-linejoin="round"/>
<path d="M1146.9 1017.1C1142.1 1011.4 1140.3 1010.1 1132.5 1000.0C1124.7 989.9 1128.1 995.8 1123.6 986.9C1119.1 978.0 1117.1 981.4 1119.1 973.4C1121.1 965.4 1121.1 969.0 1129.6 963.0C1138.1 957.0 1139.5 958.0 1144.5 955.5" fill="none" stroke="#777777" stroke-width="3.1999999999999993" stroke-linecap="round" stroke-linejoin="round"/>
<path d="M999.1 906.6L1018.5 898.3L1021.5 928.1L1015.5 929.9L1005.1 916.2L999.1 906.6Z" fill="#6c6c6c" stroke="#555" stroke-width="0.8" stroke-linejoin="round"/>
<path d="M1018.5 872.3L1075.8 866.0C1076.8 876.4 1075.8 869.0 1078.8 897.3C1081.8 925.6 1082.8 933.1 1084.8 951.0C1069.9 947.8 1060.1 946.6 1040.0 941.3C1019.9 936.0 1029.7 937.1 1024.5 935.0L1018.5 872.3Z" fill="url(#blk)" stroke="#5e5e5e" stroke-width="0.8" stroke-linejoin="round"/>
<path d="M1196.7 899.6L1238.5 930.1L1199.7 991.3C1198.5 975.9 1197.0 975.6 1196.0 945.0C1195.0 914.4 1196.5 914.7 1196.7 899.6Z" fill="url(#r2)" stroke="#5e5e5e" stroke-width="0.8" stroke-linejoin="round"/>
<path d="M1112.0 853.5C1117.7 853.2 1117.4 851.5 1129.0 852.5C1140.6 853.5 1134.3 851.0 1146.9 856.5C1159.5 862.0 1155.3 860.9 1166.9 869.0C1178.5 877.1 1174.3 871.0 1181.8 880.9C1189.3 890.8 1186.8 892.8 1189.3 898.8C1190.7 908.3 1191.2 907.8 1193.7 927.2C1196.2 946.6 1195.2 936.1 1196.7 957.0C1198.2 977.9 1197.7 978.9 1198.2 989.9C1190.2 987.9 1189.3 988.4 1174.3 983.9C1159.4 979.4 1164.4 980.6 1153.4 976.4C1142.5 972.2 1145.5 972.9 1141.5 971.2C1141.0 965.0 1141.2 969.7 1140.0 952.5C1138.8 935.4 1139.3 939.1 1137.8 919.7C1136.3 900.3 1138.3 912.2 1135.5 894.3C1132.8 876.4 1137.4 879.6 1129.6 866.0C1121.7 852.4 1117.9 857.7 1112.0 853.5Z" fill="url(#br)" stroke="#5e5e5e" stroke-width="0.8" stroke-linejoin="round"/>
<path d="M1112.0 853.5C1117.7 853.2 1117.4 851.5 1129.0 852.5C1140.6 853.5 1134.3 851.0 1146.9 856.5C1159.5 862.0 1155.3 860.9 1166.9 869.0C1178.5 877.1 1174.3 871.0 1181.8 880.9C1189.3 890.8 1186.8 892.8 1189.3 898.8C1190.7 908.3 1191.2 907.8 1193.7 927.2C1196.2 946.6 1195.2 936.1 1196.7 957.0C1198.2 977.9 1197.7 978.9 1198.2 989.9C1190.2 987.9 1189.3 988.4 1174.3 983.9C1159.4 979.4 1164.4 980.6 1153.4 976.4C1142.5 972.2 1145.5 972.9 1141.5 971.2C1141.0 965.0 1141.2 969.7 1140.0 952.5C1138.8 935.4 1139.3 939.1 1137.8 919.7C1136.3 900.3 1138.3 912.2 1135.5 894.3C1132.8 876.4 1137.4 879.6 1129.6 866.0C1121.7 852.4 1117.9 857.7 1112.0 853.5Z" fill="url(#brl2)" stroke="none"/>
<path d="M1084.8 951.8C1082.8 941.1 1081.1 943.8 1078.8 919.7C1076.5 895.6 1075.2 898.2 1078.0 879.4C1080.8 860.6 1080.2 871.0 1087.2 863.4C1094.2 855.8 1090.2 860.0 1099.1 856.5C1108.0 853.0 1103.8 849.7 1114.0 852.9C1124.2 856.1 1122.7 857.2 1129.6 866.0C1136.5 874.8 1132.8 870.0 1134.8 879.4C1136.8 888.8 1135.3 889.3 1135.5 894.3C1131.5 899.3 1132.5 898.3 1123.6 909.3C1114.7 920.3 1117.7 916.3 1108.7 927.2C1099.7 938.1 1103.7 933.7 1096.7 942.1C1089.7 950.5 1090.8 949.0 1087.8 952.5L1084.8 951.8Z" fill="url(#bl)" stroke="#5e5e5e" stroke-width="0.8" stroke-linejoin="round"/>
<path d="M1084.8 951.8C1082.8 941.1 1081.1 943.8 1078.8 919.7C1076.5 895.6 1075.2 898.2 1078.0 879.4C1080.8 860.6 1080.2 871.0 1087.2 863.4C1094.2 855.8 1090.2 860.0 1099.1 856.5C1108.0 853.0 1103.8 849.7 1114.0 852.9C1124.2 856.1 1122.7 857.2 1129.6 866.0C1136.5 874.8 1132.8 870.0 1134.8 879.4C1136.8 888.8 1135.3 889.3 1135.5 894.3C1131.5 899.3 1132.5 898.3 1123.6 909.3C1114.7 920.3 1117.7 916.3 1108.7 927.2C1099.7 938.1 1103.7 933.7 1096.7 942.1C1089.7 950.5 1090.8 949.0 1087.8 952.5L1084.8 951.8Z" fill="url(#blh)" stroke="none"/>
<path d="M1112.0 853.5C1117.7 853.2 1117.4 851.5 1129.0 852.5C1140.6 853.5 1134.3 851.0 1146.9 856.5C1159.5 862.0 1155.3 860.9 1166.9 869.0C1178.5 877.1 1174.3 871.0 1181.8 880.9C1189.3 890.8 1186.8 892.8 1189.3 898.8C1190.7 908.3 1191.2 907.8 1193.7 927.2C1196.2 946.6 1195.2 936.1 1196.7 957.0C1198.2 977.9 1197.7 978.9 1198.2 989.9C1190.2 987.9 1189.3 988.4 1174.3 983.9C1159.4 979.4 1164.4 980.6 1153.4 976.4C1142.5 972.2 1145.5 972.9 1141.5 971.2C1141.0 965.0 1141.2 969.7 1140.0 952.5C1138.8 935.4 1139.3 939.1 1137.8 919.7C1136.3 900.3 1138.3 912.2 1135.5 894.3C1132.8 876.4 1137.4 879.6 1129.6 866.0C1121.7 852.4 1117.9 857.7 1112.0 853.5Z" fill="url(#brh)" stroke="none"/>
<path d="M685.5 983.7C688.5 978.0 688.5 978.8 694.5 966.6C700.4 954.4 700.4 953.6 703.4 947.2C707.9 953.1 708.2 954.1 716.9 965.1C725.6 976.0 725.3 975.0 729.6 980.0C722.8 983.5 724.1 987.7 709.4 990.4C694.7 993.2 693.5 989.0 685.5 988.2Z" fill="url(#b12)" stroke="#5e5e5e" stroke-width="0.8" stroke-linejoin="round"/>
<path d="M783.0 970.0C784.0 962.7 783.2 963.0 786.0 948.0C788.8 933.0 789.5 932.7 791.3 925.1C795.3 930.5 793.8 931.5 803.3 941.5C812.7 951.4 813.2 949.5 819.7 954.9C826.2 960.4 821.7 956.9 822.7 957.9C816.8 963.6 818.2 968.3 805.0 975.0C791.8 981.7 790.3 977.0 783.0 978.0Z" fill="url(#b23)" stroke="#5e5e5e" stroke-width="0.8" stroke-linejoin="round"/>
<path d="M871.2 943.0C873.9 936.5 875.4 939.0 879.4 923.6C883.4 908.2 881.9 905.7 883.1 896.7C884.4 898.7 881.1 895.7 886.9 902.7C892.6 909.7 891.6 909.7 900.3 917.6C909.0 925.6 908.8 923.6 913.0 926.6C906.8 932.5 908.3 937.5 894.3 944.5C880.4 951.4 878.9 946.5 871.2 947.5Z" fill="url(#b34)" stroke="#5e5e5e" stroke-width="0.8" stroke-linejoin="round"/>
<path d="M649.0 908.4C651.7 908.9 651.4 906.4 657.2 909.9C662.9 913.3 661.4 911.3 666.1 918.8C670.8 926.3 669.5 922.8 671.3 932.2C673.2 941.7 672.8 935.2 671.8 947.2C670.8 959.1 669.5 961.1 668.4 968.1C665.6 966.1 666.4 970.0 660.1 962.1C653.9 954.1 654.4 956.6 649.7 944.2C645.0 931.7 646.2 936.7 646.0 924.8C645.7 912.8 648.0 913.8 649.0 908.4Z" fill="url(#l1)" stroke="#3a3a3a" stroke-width="0.8" stroke-linejoin="round"/>
<path d="M737.8 896.4C739.8 897.4 740.5 894.9 743.7 899.4C747.0 903.9 746.0 901.4 747.5 909.9C749.0 918.3 747.7 915.8 748.2 924.8C748.7 933.7 748.7 932.7 749.0 936.7C746.2 932.2 744.7 932.2 740.7 923.3C736.8 914.3 738.0 918.8 737.0 909.9C736.0 900.9 737.5 900.9 737.8 896.4Z" fill="url(#l2)" stroke="#3a3a3a" stroke-width="0.8" stroke-linejoin="round"/>
<path d="M824.2 866.9C825.9 868.4 826.4 865.4 829.4 871.3C832.4 877.3 831.1 874.3 833.1 884.8C835.1 895.2 834.6 896.7 835.4 902.7C834.6 900.7 836.1 904.7 833.1 896.7C830.1 888.8 829.4 888.8 826.4 878.8C823.4 868.9 824.9 870.8 824.2 866.9Z" fill="url(#l3)" stroke="#3a3a3a" stroke-width="0.8" stroke-linejoin="round"/>
<path d="M918.2 847.2C920.7 849.8 921.9 845.9 925.7 854.9C929.4 864.0 927.9 866.4 929.4 874.3C930.9 882.3 929.9 877.3 930.1 878.8C927.7 873.3 926.7 872.9 922.7 862.4C918.7 851.8 919.7 852.2 918.2 847.2Z" fill="url(#l4)" stroke="#3a3a3a" stroke-width="0.8" stroke-linejoin="round"/>
<path d="M649.0 908.4C641.7 909.6 639.0 909.1 627.3 912.1C615.6 915.1 620.3 913.3 613.9 917.3C607.4 921.3 610.2 918.6 607.9 924.0C605.6 929.5 606.4 925.0 606.9 933.7C607.4 942.4 605.6 938.7 609.4 950.1C613.2 961.6 610.4 956.6 618.4 968.1C626.3 979.5 621.8 976.0 633.3 984.5C644.7 992.9 639.3 989.5 652.7 993.4C666.1 997.4 658.7 996.4 673.6 996.4C688.5 996.4 682.5 996.7 697.5 993.4C712.4 990.2 707.7 991.2 718.4 986.7C729.1 982.2 725.8 982.2 729.6 980.0C722.8 981.5 721.6 983.0 709.4 984.5C697.2 986.0 702.9 986.2 693.0 984.5C683.0 982.7 688.0 984.2 679.6 979.3C671.1 974.3 675.1 976.8 667.6 969.6C660.1 962.3 663.1 966.1 657.2 957.6C651.2 949.2 653.4 955.1 649.7 944.2C646.0 933.2 646.2 936.7 646.0 924.8C645.7 912.8 648.0 913.8 649.0 908.4Z" fill="url(#f1)" stroke="#5e5e5e" stroke-width="0.8" stroke-linejoin="round"/>
<path d="M737.8 896.4C730.8 896.7 729.8 894.9 716.9 897.2C703.9 899.4 707.2 898.9 699.0 903.1C690.7 907.4 694.8 905.1 692.2 909.9C689.7 914.6 690.7 910.8 691.2 917.3C691.7 923.8 689.7 919.3 693.7 929.3C697.8 939.2 695.7 935.2 703.4 947.2C711.1 959.1 708.2 954.1 716.9 965.1C725.6 976.0 720.1 972.5 729.6 980.0C739.0 987.5 734.5 984.2 745.2 987.5C755.9 990.7 749.2 989.7 761.6 989.7C774.1 989.7 770.5 991.4 782.5 987.5C794.6 983.6 788.0 984.2 797.8 978.0C807.6 971.8 803.7 975.7 812.0 969.0C820.3 962.3 819.1 961.7 822.7 958.0C816.8 960.7 815.9 962.2 805.0 966.0C794.1 969.8 798.5 969.8 790.0 969.5C781.5 969.2 787.6 970.1 779.6 965.1C771.6 960.1 774.6 962.1 766.1 954.6C757.6 947.2 762.6 953.1 754.2 942.7C745.7 932.2 746.5 934.2 740.7 923.3C735.0 912.3 738.0 918.8 737.0 909.9C736.0 900.9 737.5 900.9 737.8 896.4Z" fill="url(#f2)" stroke="#5e5e5e" stroke-width="0.8" stroke-linejoin="round"/>
<path d="M824.2 866.9C817.7 867.9 816.7 866.6 804.8 869.9C792.8 873.1 796.3 872.1 788.4 876.6C780.4 881.0 784.0 878.1 780.9 883.3C777.8 888.5 778.1 884.3 779.1 892.2C780.1 900.2 779.8 896.2 783.9 907.2C788.0 918.1 784.9 913.6 791.3 925.1C797.8 936.5 793.8 931.5 803.3 941.5C812.7 951.4 807.3 947.7 819.7 954.9C832.1 962.1 829.7 961.1 840.6 963.1C851.5 965.1 841.6 963.1 852.5 960.9C863.5 958.7 859.5 959.9 873.4 956.4C887.4 952.9 882.4 954.4 894.3 950.4C906.3 946.5 901.3 950.4 909.3 944.5C917.2 938.5 913.2 941.0 918.2 932.5C923.2 924.1 922.2 923.6 924.2 919.1C920.4 921.6 922.9 920.6 913.0 926.6C903.0 932.5 905.5 931.6 894.3 937.0C883.1 942.4 888.4 941.4 879.4 942.7C870.4 943.9 875.4 945.6 867.5 940.7C859.5 935.9 863.5 937.3 855.5 928.1C847.6 918.9 851.0 923.6 843.6 913.1C836.1 902.7 838.9 908.2 833.1 896.7C827.4 885.3 829.4 888.8 826.4 878.8C823.4 868.9 824.9 870.8 824.2 866.9Z" fill="url(#f3)" stroke="#5e5e5e" stroke-width="0.8" stroke-linejoin="round"/>
<path d="M869.7 854.2L918.2 847.2C919.7 852.2 918.7 851.8 922.7 862.4C926.7 872.9 922.9 868.9 930.1 878.8C937.4 888.8 939.6 887.8 944.3 892.2C941.1 896.7 940.8 898.2 934.6 905.7C928.4 913.1 932.9 907.7 925.7 914.6C918.5 921.6 917.2 922.6 913.0 926.6C908.8 923.6 909.0 925.6 900.3 917.6C891.6 909.7 894.8 914.6 886.9 902.7C878.9 890.7 881.9 895.2 876.4 881.8C870.9 868.4 872.7 871.6 870.4 862.4C868.2 853.2 870.0 856.9 869.7 854.2Z" fill="url(#f4)" stroke="#5e5e5e" stroke-width="0.8" stroke-linejoin="round"/>
<path d="M900.4 1146.4C908.6 1141.9 910.8 1139.6 925.0 1133.0C939.2 1126.4 937.0 1128.7 943.0 1126.5L942.2 1109.6C954.7 1103.9 957.2 1103.1 979.6 1092.4C1002.0 1081.7 994.5 1085.1 1009.4 1077.5C1024.3 1069.9 1019.3 1072.2 1024.3 1069.5L1079.7 1071.5L1100.3 1081.8C1117.5 1077.2 1117.5 1076.1 1151.8 1068.1C1186.1 1060.1 1171.2 1062.9 1203.3 1057.8C1235.3 1052.6 1212.4 1055.5 1247.9 1052.6C1283.4 1049.8 1289.1 1050.3 1309.7 1049.2L1309.7 1081.8C1285.7 1083.5 1273.1 1082.9 1237.6 1086.9C1202.1 1090.9 1237.6 1086.9 1203.3 1093.8C1169.0 1100.7 1180.4 1097.8 1134.6 1107.5C1088.9 1117.3 1092.8 1117.7 1066.0 1123.0C1039.2 1128.3 1073.1 1119.4 1054.2 1123.5C1035.3 1127.6 1039.3 1129.0 1009.4 1135.2C979.5 1141.4 1000.9 1138.1 964.6 1142.2C928.3 1146.3 921.8 1146.0 900.4 1147.4C879.0 1148.8 900.4 1146.7 900.4 1146.4Z" fill="url(#fan)" stroke="#666" stroke-width="0.6" stroke-linejoin="round"/>
<path d="M900.4 1146.4C919.3 1141.3 920.9 1141.2 957.2 1131.2C993.5 1121.2 977.1 1126.0 1009.4 1116.3C1041.7 1106.6 1024.0 1110.4 1054.2 1102.1C1084.4 1093.8 1064.7 1097.0 1100.0 1091.5C1135.3 1086.0 1117.6 1086.7 1160.0 1085.5C1202.4 1084.3 1204.9 1087.2 1227.3 1088.0L1203.3 1093.8C1180.4 1098.4 1180.4 1097.8 1134.6 1107.5C1088.8 1117.2 1092.8 1117.7 1066.0 1123.0C1039.2 1128.3 1073.1 1119.4 1054.2 1123.5C1035.3 1127.6 1039.3 1129.0 1009.4 1135.2C979.5 1141.4 1000.9 1138.1 964.6 1142.2C928.3 1146.3 921.8 1145.7 900.4 1147.4L900.4 1146.4Z" fill="url(#L2)" stroke="none" stroke-width="0.8" stroke-linejoin="round"/>
<path d="M900.4 1146.4C908.6 1141.9 910.1 1139.6 925.0 1133.0C939.9 1126.4 938.3 1128.7 945.0 1126.5C949.6 1125.1 937.2 1128.8 958.7 1122.2C980.2 1115.6 977.6 1115.8 1009.4 1106.6C1041.2 1097.4 1023.3 1100.6 1054.2 1094.6C1085.1 1088.6 1086.1 1090.7 1102.0 1088.7C1121.3 1086.5 1118.2 1082.9 1160.0 1082.0C1201.8 1081.1 1204.9 1084.7 1227.3 1086.0L1227.3 1088.0C1204.9 1087.2 1202.4 1084.3 1160.0 1085.5C1117.6 1086.7 1135.3 1086.0 1100.0 1091.5C1064.7 1097.0 1084.4 1093.8 1054.2 1102.1C1024.0 1110.4 1041.7 1106.6 1009.4 1116.3C977.1 1126.0 993.5 1121.2 957.2 1131.2C920.9 1141.2 919.3 1141.3 900.4 1146.4Z" fill="url(#D2)" stroke="none" stroke-width="0.8" stroke-linejoin="round"/>
<path d="M943.0 1114.8C956.2 1110.3 960.4 1108.8 982.5 1101.3C1004.6 1093.8 992.5 1098.4 1009.4 1092.4C1026.3 1086.4 1013.1 1088.5 1033.3 1083.4C1053.5 1078.3 1047.7 1077.8 1070.0 1077.0C1092.3 1076.2 1090.2 1079.7 1100.3 1081.0L1100.3 1082.8C1084.9 1085.0 1084.5 1083.0 1054.2 1089.4C1023.9 1095.8 1041.7 1092.6 1009.4 1102.1C977.1 1111.6 979.3 1111.5 957.2 1117.8C935.1 1124.1 947.7 1119.9 943.0 1121.0L943.0 1114.8Z" fill="#b2b2b2" stroke="none" stroke-width="0.8" stroke-linejoin="round"/>
<path d="M943.0 1121.0C947.7 1119.9 935.1 1124.1 957.2 1117.8C979.3 1111.5 977.1 1111.6 1009.4 1102.1C1041.7 1092.6 1023.9 1095.8 1054.2 1089.4C1084.5 1083.0 1084.9 1085.0 1100.3 1082.8L1102.0 1088.7C1086.1 1090.7 1085.1 1088.6 1054.2 1094.6C1023.3 1100.6 1041.2 1097.4 1009.4 1106.6C977.6 1115.8 980.2 1115.6 958.7 1122.2C937.2 1128.8 949.6 1125.1 945.0 1126.5L943.0 1121.0Z" fill="url(#stp)" stroke="none" stroke-width="0.8" stroke-linejoin="round"/>
<path d="M942.2 1109.6L943.2 1115.5" stroke="#555" stroke-width="1.6"/>
<path d="M1037.5 1057.8L1091.2 1052.5C1089.0 1056.0 1089.7 1056.5 1084.5 1063.0C1079.3 1069.5 1082.5 1066.5 1075.5 1071.9C1068.6 1077.4 1072.0 1076.9 1063.6 1079.4C1055.1 1081.9 1057.1 1082.4 1050.1 1079.4C1043.2 1076.4 1046.9 1077.7 1042.7 1070.4C1038.5 1063.2 1039.2 1062.0 1037.5 1057.8Z" fill="url(#arw)" stroke="#6a6a6a" stroke-width="0.6" stroke-linejoin="round"/>
<path d="M675.4 1205.8C693.3 1200.8 691.3 1200.3 729.1 1190.9C766.9 1181.4 749.0 1185.4 788.8 1177.5C828.6 1169.5 820.6 1172.0 848.5 1167.0C876.4 1162.0 864.4 1164.0 872.4 1162.5L872.4 1164.3C864.4 1166.7 873.4 1163.1 848.5 1171.5C823.6 1179.9 827.6 1178.0 797.8 1189.4C767.9 1200.8 781.8 1195.9 759.0 1205.8C736.1 1215.8 754.5 1210.0 729.1 1219.3C703.7 1228.5 698.3 1228.8 682.8 1233.6L675.4 1205.8Z" fill="url(#g1)" stroke="#444" stroke-width="0.8" stroke-linejoin="round"/>
<path d="M675.4 1205.8C693.3 1200.8 691.3 1200.3 729.1 1190.9C766.9 1181.4 749.0 1185.4 788.8 1177.5C828.6 1169.5 820.6 1172.0 848.5 1167.0C876.4 1162.0 864.4 1164.0 872.4 1162.5C864.4 1165.1 876.4 1163.5 848.5 1170.3C820.6 1177.1 828.6 1173.7 788.8 1182.8C749.0 1192.0 766.3 1187.8 729.1 1197.8C691.9 1207.7 694.5 1207.7 677.2 1212.7L675.4 1205.8Z" fill="url(#g1t)" stroke="none" stroke-width="0.8" stroke-linejoin="round"/>
<path d="M800.7 1225.2L844.0 1198.4L848.5 1184.9L869.4 1169.1C858.5 1175.9 859.5 1170.7 836.6 1189.4C813.7 1208.1 812.7 1213.3 800.7 1225.2Z" fill="#585858" stroke="#444" stroke-width="0.8" stroke-linejoin="round"/>
<path d="M793.3 1222.2C805.2 1209.3 806.7 1201.5 829.1 1183.4C851.5 1165.3 850.0 1173.1 860.4 1167.9L869.4 1169.1C858.5 1175.9 859.5 1170.5 836.6 1189.4C813.7 1208.3 812.7 1213.7 800.7 1225.8L793.3 1222.2Z" fill="url(#g2)" stroke="none" stroke-width="0.8" stroke-linejoin="round"/>
<path d="M625 1157L644 1157" stroke="#8fb3c6" stroke-width="7" stroke-linecap="round"/><path d="M625 1156.4L644 1156.4" stroke="#b9dcec" stroke-width="4" stroke-linecap="round"/>
<path d="M901.2 1149.8C916.1 1148.8 900.1 1150.8 945.8 1147.0C991.6 1143.2 987.0 1144.2 1038.5 1138.4C1090.0 1132.7 1056.8 1135.0 1100.3 1129.9C1143.8 1124.7 1123.2 1126.4 1169.0 1123.0C1214.7 1119.6 1190.7 1121.8 1237.6 1119.6C1284.5 1117.3 1285.7 1117.3 1309.7 1116.1L1309.7 1152.2C1285.7 1151.0 1296.0 1150.2 1237.6 1148.7C1179.3 1147.2 1214.7 1146.6 1134.6 1147.7C1054.5 1148.8 1075.1 1149.5 997.3 1152.2C919.5 1154.8 933.2 1154.5 901.2 1155.6L901.2 1149.8Z" fill="url(#bs_r)" stroke="none" stroke-width="0.8" stroke-linejoin="round"/>
<path d="M901.2 1149.8C916.1 1148.8 900.1 1150.8 945.8 1147.0C991.6 1143.2 987.0 1144.2 1038.5 1138.4C1090.0 1132.7 1056.8 1135.0 1100.3 1129.9C1143.8 1124.7 1123.2 1126.4 1169.0 1123.0C1214.7 1119.6 1190.7 1121.8 1237.6 1119.6C1284.5 1117.3 1285.7 1117.3 1309.7 1116.1M1309.7 1152.2C1285.7 1151.0 1296.0 1150.2 1237.6 1148.7C1179.3 1147.2 1214.7 1146.6 1134.6 1147.7C1054.5 1148.8 1075.1 1149.5 997.3 1152.2C919.5 1154.8 933.2 1154.5 901.2 1155.6" fill="none" stroke="#86a8ba" stroke-width="0.7"/>
<path d="M1031.6 1139.1C1054.5 1136.1 1054.5 1135.5 1100.3 1130.2C1146.1 1124.9 1123.2 1126.8 1169.0 1123.3C1214.7 1119.9 1197.6 1121.8 1237.6 1119.9C1277.7 1118.0 1271.9 1118.3 1289.1 1117.5L1289.1 1123.0C1271.9 1125.0 1277.7 1125.2 1237.6 1129.2C1197.6 1133.2 1214.7 1131.6 1169.0 1135.0C1123.2 1138.4 1146.1 1137.6 1100.3 1139.5C1054.5 1141.3 1054.5 1140.2 1031.6 1140.5L1031.6 1139.1Z" fill="url(#bs_w)" stroke="none" stroke-width="0.8" stroke-linejoin="round"/>
<path d="M705.2 1139.3C723.1 1139.9 721.1 1139.3 759.0 1141.0C796.8 1142.8 781.8 1140.0 818.7 1144.6C855.5 1149.3 840.5 1153.6 869.4 1155.1C898.3 1156.5 881.4 1152.1 905.4 1149.0C929.3 1145.9 917.3 1147.3 941.2 1145.7C965.1 1144.2 965.1 1144.8 977.0 1144.3L977.0 1153.4C965.1 1153.9 965.1 1153.4 941.2 1154.7C917.3 1155.9 929.1 1156.0 905.4 1157.2C881.6 1158.4 889.0 1157.0 870.0 1158.4C851.0 1159.7 870.6 1158.4 848.5 1161.3C826.4 1164.3 833.6 1163.9 803.7 1167.3C773.9 1170.7 791.3 1169.3 759.0 1171.5C726.6 1173.7 724.1 1173.1 706.7 1173.9L705.2 1139.3Z" fill="url(#bs_l)" stroke="none" stroke-width="0.8" stroke-linejoin="round"/>
<path d="M705.2 1139.3C723.1 1139.9 721.1 1139.3 759.0 1141.0C796.8 1142.8 781.8 1140.0 818.7 1144.6C855.5 1149.3 840.5 1153.6 869.4 1155.1C898.3 1156.5 881.4 1152.1 905.4 1149.0C929.3 1145.9 917.3 1147.3 941.2 1145.7C965.1 1144.2 965.1 1144.8 977.0 1144.3M977.0 1153.4C965.1 1153.9 965.1 1153.4 941.2 1154.7C917.3 1155.9 929.1 1156.0 905.4 1157.2C881.6 1158.4 889.0 1157.0 870.0 1158.4C851.0 1159.7 870.6 1158.4 848.5 1161.3C826.4 1164.3 833.6 1163.9 803.7 1167.3C773.9 1170.7 791.3 1169.3 759.0 1171.5C726.6 1173.7 724.1 1173.1 706.7 1173.9" fill="none" stroke="#86a8ba" stroke-width="0.7"/>
<path d="M735.1 1148.8C753.0 1148.7 751.0 1147.2 788.8 1148.5C826.6 1149.8 821.6 1149.7 848.5 1152.7C875.4 1155.7 862.4 1155.9 869.4 1157.5C862.4 1158.7 870.4 1157.9 848.5 1161.0C826.6 1164.2 833.6 1163.6 803.7 1167.0C773.9 1170.4 781.8 1169.4 759.0 1171.2C736.1 1173.0 743.0 1172.0 735.1 1172.4L735.1 1148.8Z" fill="url(#bs_d)" stroke="none" stroke-width="0.8" stroke-linejoin="round"/>
<path d="M642.5 1156.6L705.2 1128.2L706.7 1181.9L642.5 1156.6Z" fill="url(#bs_h)" stroke="#86a9bb" stroke-width="0.8" stroke-linejoin="round"/>
<path d="M747.0 1159.6L772.4 1171.5L764.9 1201.3L741.0 1213.3" fill="none" stroke="#6f98ae" stroke-width="7.8" stroke-linecap="round" stroke-linejoin="round"/>
<path d="M747.0 1159.6L772.4 1171.5L764.9 1201.3L741.0 1213.3" fill="none" stroke="#a6d1e7" stroke-width="6.0" stroke-linecap="round" stroke-linejoin="round"/>
<path d="M747.0 1159.6L772.4 1171.5L764.9 1201.3L741.0 1213.3" fill="none" stroke="#c9e7f5" stroke-width="2.2" stroke-linecap="round" stroke-linejoin="round" transform="translate(-0.7,-0.7)"/>
<path d="M772.4 1171.5L782.8 1166.1" fill="none" stroke="#6f98ae" stroke-width="7.8" stroke-linecap="round" stroke-linejoin="round"/>
<path d="M772.4 1171.5L782.8 1166.1" fill="none" stroke="#a6d1e7" stroke-width="6.0" stroke-linecap="round" stroke-linejoin="round"/>
<path d="M772.4 1171.5L782.8 1166.1" fill="none" stroke="#c9e7f5" stroke-width="2.2" stroke-linecap="round" stroke-linejoin="round" transform="translate(-0.7,-0.7)"/>
<path d="M764.9 1201.3L776.9 1207.9" fill="none" stroke="#6f98ae" stroke-width="7.8" stroke-linecap="round" stroke-linejoin="round"/>
<path d="M764.9 1201.3L776.9 1207.9" fill="none" stroke="#a6d1e7" stroke-width="6.0" stroke-linecap="round" stroke-linejoin="round"/>
<path d="M764.9 1201.3L776.9 1207.9" fill="none" stroke="#c9e7f5" stroke-width="2.2" stroke-linecap="round" stroke-linejoin="round" transform="translate(-0.7,-0.7)"/>
<path d="M741.0 1151.2L747.6 1160.1" fill="none" stroke="#a82222" stroke-width="7.8" stroke-linecap="round" stroke-linejoin="round"/>
<path d="M741.0 1151.2L747.6 1160.1" fill="none" stroke="#e03a3a" stroke-width="6.0" stroke-linecap="round" stroke-linejoin="round"/>
<path d="M741.0 1151.2L747.6 1160.1" fill="none" stroke="#f08080" stroke-width="2.2" stroke-linecap="round" stroke-linejoin="round" transform="translate(-0.7,-0.7)"/>
<path d="M777.5 1207.9L786.4 1213.3" fill="none" stroke="#a82222" stroke-width="7.8" stroke-linecap="round" stroke-linejoin="round"/>
<path d="M777.5 1207.9L786.4 1213.3" fill="none" stroke="#e03a3a" stroke-width="6.0" stroke-linecap="round" stroke-linejoin="round"/>
<path d="M777.5 1207.9L786.4 1213.3" fill="none" stroke="#f08080" stroke-width="2.2" stroke-linecap="round" stroke-linejoin="round" transform="translate(-0.7,-0.7)"/>
<path d="M782.2 1166.1L799.3 1158.4" fill="none" stroke="#1414a0" stroke-width="7.8" stroke-linecap="round" stroke-linejoin="round"/>
<path d="M782.2 1166.1L799.3 1158.4" fill="none" stroke="#2222e0" stroke-width="6.0" stroke-linecap="round" stroke-linejoin="round"/>
<path d="M782.2 1166.1L799.3 1158.4" fill="none" stroke="#5a5af0" stroke-width="2.2" stroke-linecap="round" stroke-linejoin="round" transform="translate(-0.7,-0.7)"/>
<path d="M820.3 1067.5L814.0 1089.0L833.7 1109.6L831.9 1136.4L816.7 1145.4" fill="none" stroke="#6f98ae" stroke-width="7.8" stroke-linecap="round" stroke-linejoin="round"/>
<path d="M820.3 1067.5L814.0 1089.0L833.7 1109.6L831.9 1136.4L816.7 1145.4" fill="none" stroke="#a6d1e7" stroke-width="6.0" stroke-linecap="round" stroke-linejoin="round"/>
<path d="M820.3 1067.5L814.0 1089.0L833.7 1109.6L831.9 1136.4L816.7 1145.4" fill="none" stroke="#c9e7f5" stroke-width="2.2" stroke-linecap="round" stroke-linejoin="round" transform="translate(-0.7,-0.7)"/>
<path d="M806.9 1088.1L814.0 1089.0" fill="none" stroke="#6f98ae" stroke-width="7.8" stroke-linecap="round" stroke-linejoin="round"/>
<path d="M806.9 1088.1L814.0 1089.0" fill="none" stroke="#a6d1e7" stroke-width="6.0" stroke-linecap="round" stroke-linejoin="round"/>
<path d="M806.9 1088.1L814.0 1089.0" fill="none" stroke="#c9e7f5" stroke-width="2.2" stroke-linecap="round" stroke-linejoin="round" transform="translate(-0.7,-0.7)"/>
<path d="M831.9 1136.4L842.7 1142.2" fill="none" stroke="#6f98ae" stroke-width="7.8" stroke-linecap="round" stroke-linejoin="round"/>
<path d="M831.9 1136.4L842.7 1142.2" fill="none" stroke="#a6d1e7" stroke-width="6.0" stroke-linecap="round" stroke-linejoin="round"/>
<path d="M831.9 1136.4L842.7 1142.2" fill="none" stroke="#c9e7f5" stroke-width="2.2" stroke-linecap="round" stroke-linejoin="round" transform="translate(-0.7,-0.7)"/>
<path d="M842.7 1142.2L849.0 1144.8" fill="none" stroke="#1414a0" stroke-width="5.5" stroke-linecap="round" stroke-linejoin="round"/>
<path d="M842.7 1142.2L849.0 1144.8" fill="none" stroke="#2222e0" stroke-width="3.7" stroke-linecap="round" stroke-linejoin="round"/>
<circle cx="812.6" cy="1090.2" r="4.2" fill="#5f7f90"/>
<path d="M870.9 1159.6L890.3 1174.5L887.3 1198.4L911.2 1216.3L909.7 1244.6" fill="none" stroke="#6f98ae" stroke-width="7.8" stroke-linecap="round" stroke-linejoin="round"/>
<path d="M870.9 1159.6L890.3 1174.5L887.3 1198.4L911.2 1216.3L909.7 1244.6" fill="none" stroke="#a6d1e7" stroke-width="6.0" stroke-linecap="round" stroke-linejoin="round"/>
<path d="M870.9 1159.6L890.3 1174.5L887.3 1198.4L911.2 1216.3L909.7 1244.6" fill="none" stroke="#c9e7f5" stroke-width="2.2" stroke-linecap="round" stroke-linejoin="round" transform="translate(-0.7,-0.7)"/>
<path d="M890.3 1174.5L903.7 1167.0" fill="none" stroke="#6f98ae" stroke-width="7.8" stroke-linecap="round" stroke-linejoin="round"/>
<path d="M890.3 1174.5L903.7 1167.0" fill="none" stroke="#a6d1e7" stroke-width="6.0" stroke-linecap="round" stroke-linejoin="round"/>
<path d="M890.3 1174.5L903.7 1167.0" fill="none" stroke="#c9e7f5" stroke-width="2.2" stroke-linecap="round" stroke-linejoin="round" transform="translate(-0.7,-0.7)"/>
<path d="M903.7 1167.0L923.7 1159.0" fill="none" stroke="#1414a0" stroke-width="7.8" stroke-linecap="round" stroke-linejoin="round"/>
<path d="M903.7 1167.0L923.7 1159.0" fill="none" stroke="#2222e0" stroke-width="6.0" stroke-linecap="round" stroke-linejoin="round"/>
<path d="M903.7 1167.0L923.7 1159.0" fill="none" stroke="#5a5af0" stroke-width="2.2" stroke-linecap="round" stroke-linejoin="round" transform="translate(-0.7,-0.7)"/>
<path d="M909.7 1244.6L897.8 1253.6" fill="none" stroke="#a82222" stroke-width="7.8" stroke-linecap="round" stroke-linejoin="round"/>
<path d="M909.7 1244.6L897.8 1253.6" fill="none" stroke="#e03a3a" stroke-width="6.0" stroke-linecap="round" stroke-linejoin="round"/>
<path d="M909.7 1244.6L897.8 1253.6" fill="none" stroke="#f08080" stroke-width="2.2" stroke-linecap="round" stroke-linejoin="round" transform="translate(-0.7,-0.7)"/>
<path d="M909.7 1244.6L923.1 1255.1" fill="none" stroke="#a82222" stroke-width="7.8" stroke-linecap="round" stroke-linejoin="round"/>
<path d="M909.7 1244.6L923.1 1255.1" fill="none" stroke="#e03a3a" stroke-width="6.0" stroke-linecap="round" stroke-linejoin="round"/>
<path d="M909.7 1244.6L923.1 1255.1" fill="none" stroke="#f08080" stroke-width="2.2" stroke-linecap="round" stroke-linejoin="round" transform="translate(-0.7,-0.7)"/>
<circle cx="869.4" cy="1158.4" r="4.6" fill="#e03a3a" stroke="#a82222" stroke-width="0.8"/>
<path d="M954.6 1143.6L952.0 1114.9L951.1 1098.8L947.5 1083.6" fill="none" stroke="#6f98ae" stroke-width="7.8" stroke-linecap="round" stroke-linejoin="round"/>
<path d="M954.6 1143.6L952.0 1114.9L951.1 1098.8L947.5 1083.6" fill="none" stroke="#a6d1e7" stroke-width="6.0" stroke-linecap="round" stroke-linejoin="round"/>
<path d="M954.6 1143.6L952.0 1114.9L951.1 1098.8L947.5 1083.6" fill="none" stroke="#c9e7f5" stroke-width="2.2" stroke-linecap="round" stroke-linejoin="round" transform="translate(-0.7,-0.7)"/>
<path d="M947.5 1083.6L941.2 1067.5L952.0 1063.0" fill="none" stroke="#a08418" stroke-width="7.8" stroke-linecap="round" stroke-linejoin="round"/>
<path d="M947.5 1083.6L941.2 1067.5L952.0 1063.0" fill="none" stroke="#d6b22e" stroke-width="6.0" stroke-linecap="round" stroke-linejoin="round"/>
<path d="M947.5 1083.6L941.2 1067.5L952.0 1063.0" fill="none" stroke="#ecd060" stroke-width="2.2" stroke-linecap="round" stroke-linejoin="round" transform="translate(-0.7,-0.7)"/>
<path d="M952.0 1063.0L968.1 1056.7" fill="none" stroke="#6f98ae" stroke-width="7.8" stroke-linecap="round" stroke-linejoin="round"/>
<path d="M952.0 1063.0L968.1 1056.7" fill="none" stroke="#a6d1e7" stroke-width="6.0" stroke-linecap="round" stroke-linejoin="round"/>
<path d="M952.0 1063.0L968.1 1056.7" fill="none" stroke="#c9e7f5" stroke-width="2.2" stroke-linecap="round" stroke-linejoin="round" transform="translate(-0.7,-0.7)"/>
<path d="M1029.9 1059.5L1038.5 1083.5L1062.5 1090.4L1074.6 1119.6L1052.2 1138.4" fill="none" stroke="#6f98ae" stroke-width="7.8" stroke-linecap="round" stroke-linejoin="round"/>
<path d="M1029.9 1059.5L1038.5 1083.5L1062.5 1090.4L1074.6 1119.6L1052.2 1138.4" fill="none" stroke="#a6d1e7" stroke-width="6.0" stroke-linecap="round" stroke-linejoin="round"/>
<path d="M1029.9 1059.5L1038.5 1083.5L1062.5 1090.4L1074.6 1119.6L1052.2 1138.4" fill="none" stroke="#c9e7f5" stroke-width="2.2" stroke-linecap="round" stroke-linejoin="round" transform="translate(-0.7,-0.7)"/>
<path d="M1038.5 1083.5L1034.4 1085.2" fill="none" stroke="#6f98ae" stroke-width="7.8" stroke-linecap="round" stroke-linejoin="round"/>
<path d="M1038.5 1083.5L1034.4 1085.2" fill="none" stroke="#a6d1e7" stroke-width="6.0" stroke-linecap="round" stroke-linejoin="round"/>
<path d="M1038.5 1083.5L1034.4 1085.2" fill="none" stroke="#c9e7f5" stroke-width="2.2" stroke-linecap="round" stroke-linejoin="round" transform="translate(-0.7,-0.7)"/>
<path d="M1074.6 1119.6L1084.9 1121.6" fill="none" stroke="#6f98ae" stroke-width="7.8" stroke-linecap="round" stroke-linejoin="round"/>
<path d="M1074.6 1119.6L1084.9 1121.6" fill="none" stroke="#a6d1e7" stroke-width="6.0" stroke-linecap="round" stroke-linejoin="round"/>
<path d="M1074.6 1119.6L1084.9 1121.6" fill="none" stroke="#c9e7f5" stroke-width="2.2" stroke-linecap="round" stroke-linejoin="round" transform="translate(-0.7,-0.7)"/>
<path d="M1084.9 1121.6L1095.2 1123.7" fill="none" stroke="#1414a0" stroke-width="7.8" stroke-linecap="round" stroke-linejoin="round"/>
<path d="M1084.9 1121.6L1095.2 1123.7" fill="none" stroke="#2222e0" stroke-width="6.0" stroke-linecap="round" stroke-linejoin="round"/>
<path d="M1084.9 1121.6L1095.2 1123.7" fill="none" stroke="#5a5af0" stroke-width="2.2" stroke-linecap="round" stroke-linejoin="round" transform="translate(-0.7,-0.7)"/>
<path d="M1052.2 1138.4L1038.5 1140.8" fill="none" stroke="#1414a0" stroke-width="5" stroke-linecap="round" stroke-linejoin="round"/>
<path d="M1052.2 1138.4L1038.5 1140.8" fill="none" stroke="#2222e0" stroke-width="3.2" stroke-linecap="round" stroke-linejoin="round"/>
<path d="M1002.1 1159.6L1023.0 1158.1L1036.4 1184.9L1018.5 1205.8L1006.6 1207.9" fill="none" stroke="#6f98ae" stroke-width="7.8" stroke-linecap="round" stroke-linejoin="round"/>
<path d="M1002.1 1159.6L1023.0 1158.1L1036.4 1184.9L1018.5 1205.8L1006.6 1207.9" fill="none" stroke="#a6d1e7" stroke-width="6.0" stroke-linecap="round" stroke-linejoin="round"/>
<path d="M1002.1 1159.6L1023.0 1158.1L1036.4 1184.9L1018.5 1205.8L1006.6 1207.9" fill="none" stroke="#c9e7f5" stroke-width="2.2" stroke-linecap="round" stroke-linejoin="round" transform="translate(-0.7,-0.7)"/>
<path d="M1023.0 1158.1L1029.0 1154.2" fill="none" stroke="#6f98ae" stroke-width="7.8" stroke-linecap="round" stroke-linejoin="round"/>
<path d="M1023.0 1158.1L1029.0 1154.2" fill="none" stroke="#a6d1e7" stroke-width="6.0" stroke-linecap="round" stroke-linejoin="round"/>
<path d="M1023.0 1158.1L1029.0 1154.2" fill="none" stroke="#c9e7f5" stroke-width="2.2" stroke-linecap="round" stroke-linejoin="round" transform="translate(-0.7,-0.7)"/>
<path d="M1029.0 1154.2L1034.9 1151.2" fill="none" stroke="#1414a0" stroke-width="5.5" stroke-linecap="round" stroke-linejoin="round"/>
<path d="M1029.0 1154.2L1034.9 1151.2" fill="none" stroke="#2222e0" stroke-width="3.7" stroke-linecap="round" stroke-linejoin="round"/>
<path d="M1006.6 1207.9L996.1 1209.1" fill="none" stroke="#a82222" stroke-width="7.8" stroke-linecap="round" stroke-linejoin="round"/>
<path d="M1006.6 1207.9L996.1 1209.1" fill="none" stroke="#e03a3a" stroke-width="6.0" stroke-linecap="round" stroke-linejoin="round"/>
<path d="M1006.6 1207.9L996.1 1209.1" fill="none" stroke="#f08080" stroke-width="2.2" stroke-linecap="round" stroke-linejoin="round" transform="translate(-0.7,-0.7)"/>
<path d="M1018.5 1205.8L1029.0 1212.7" fill="none" stroke="#6f98ae" stroke-width="7.8" stroke-linecap="round" stroke-linejoin="round"/>
<path d="M1018.5 1205.8L1029.0 1212.7" fill="none" stroke="#a6d1e7" stroke-width="6.0" stroke-linecap="round" stroke-linejoin="round"/>
<path d="M1018.5 1205.8L1029.0 1212.7" fill="none" stroke="#c9e7f5" stroke-width="2.2" stroke-linecap="round" stroke-linejoin="round" transform="translate(-0.7,-0.7)"/>
<path d="M1029.0 1212.7L1037.0 1218.7" fill="none" stroke="#1414a0" stroke-width="7.8" stroke-linecap="round" stroke-linejoin="round"/>
<path d="M1029.0 1212.7L1037.0 1218.7" fill="none" stroke="#2222e0" stroke-width="6.0" stroke-linecap="round" stroke-linejoin="round"/>
<path d="M1029.0 1212.7L1037.0 1218.7" fill="none" stroke="#5a5af0" stroke-width="2.2" stroke-linecap="round" stroke-linejoin="round" transform="translate(-0.7,-0.7)"/>
<circle cx="996.7" cy="1161.0" r="4.6" fill="#e03a3a" stroke="#a82222" stroke-width="0.8"/>
<path d="M981.2 1155.1L991.6 1158.7" fill="none" stroke="#1414a0" stroke-width="4.5" stroke-linecap="round" stroke-linejoin="round"/>
<path d="M981.2 1155.1L991.6 1158.7" fill="none" stroke="#2222e0" stroke-width="2.7" stroke-linecap="round" stroke-linejoin="round"/>
<path d="M963.0 1144.3L973.3 1145.6" fill="none" stroke="#1414a0" stroke-width="4" stroke-linecap="round" stroke-linejoin="round"/>
<path d="M963.0 1144.3L973.3 1145.6" fill="none" stroke="#2222e0" stroke-width="2.2" stroke-linecap="round" stroke-linejoin="round"/>
<text x="836" y="1054.9" text-anchor="middle" font-size="29">90</text>
<text x="939.9" y="1046" text-anchor="middle" font-size="29">88</text>
<text x="1070.8" y="1045.8" text-anchor="middle" font-size="29">86</text>
<text x="763.4" y="1261" text-anchor="middle" font-size="29">91</text>
<text x="909.3" y="1291.5" text-anchor="middle" font-size="29">89</text>
<text x="1014.8" y="1261" text-anchor="middle" font-size="29">87</text>
</g>
<rect x="563.6" y="844.8" width="744" height="480" fill="none" stroke="#232323" stroke-width="5"/>
<rect x="305.3" y="1483.6" width="984.0" height="639.5999999999999" fill="none" stroke="#000" stroke-width="2.4"/>
<text x="280.3" y="1533.9" text-anchor="end" font-size="29" font-weight="normal">100</text>
<text x="280.3" y="1665.5" text-anchor="end" font-size="29" font-weight="normal">80</text>
<text x="280.3" y="1797.2" text-anchor="end" font-size="29" font-weight="normal">60</text>
<text x="280.3" y="1928.9" text-anchor="end" font-size="29" font-weight="normal">40</text>
<text x="280.3" y="2060.6" text-anchor="end" font-size="29" font-weight="normal">20</text>
<text x="378.8" y="2168.4" text-anchor="middle" font-size="29" font-weight="normal"><tspan dy="-2.7">–</tspan><tspan dy="2.7">1.5</tspan></text>
<text x="567.4" y="2168.4" text-anchor="middle" font-size="29" font-weight="normal"><tspan dy="-2.7">–</tspan><tspan dy="2.7">1.0</tspan></text>
<text x="755.6" y="2168.4" text-anchor="middle" font-size="29" font-weight="normal"><tspan dy="-2.7">–</tspan><tspan dy="2.7">0.5</tspan></text>
<text x="944" y="2168.4" text-anchor="middle" font-size="29" font-weight="normal">0</text>
<text x="1132.4" y="2168.4" text-anchor="middle" font-size="29" font-weight="normal">0.5</text>
<path d="M295.3 1525H305.3M295.3 1656.6H305.3M295.3 1788.3H305.3M295.3 1920H305.3M295.3 2051.7H305.3M378.8 2123.2V2133.2M567.4 2123.2V2133.2M755.6 2123.2V2133.2M944 2123.2V2133.2M1132.4 2123.2V2133.2" stroke="#000" stroke-width="2.3" fill="none"/>
<text x="796.5" y="2215" text-anchor="middle" font-size="29" font-weight="normal">Apparent fitness score (AFS)</text>
<text x="199.8" y="1806.4" text-anchor="middle" font-size="29" font-weight="normal" transform="rotate(-90 199.8 1806.4)">Normalized VLP assembly</text>
<text x="37.7" y="1499" text-anchor="start" font-size="42" font-weight="bold">d</text>
<g stroke="#6c1029" fill="#6c1029"><path d="M352.5 2039.4V2091.4M412.8 1566.9V1749.6M420.6 2036.9V2091.5M491.9 1988.9V2052.6M616.6 1731.6V1951.9M786 2033.3V2093.6M800.9 2049.6V2089.3M918.5 2041V2091.3M1008.1 2039.7V2089.3" stroke-width="4" fill="none"/><path d="M340.8 2039.4H364.2M340.8 2091.4H364.2M401.1 1566.9H424.5M401.1 1749.6H424.5M408.9 2036.9H432.3M408.9 2091.5H432.3M480.2 1988.9H503.6M480.2 2052.6H503.6M604.9 1731.6H628.3M604.9 1951.9H628.3M774.3 2033.3H797.7M774.3 2093.6H797.7M789.2 2049.6H812.6M789.2 2089.3H812.6M906.8 2041H930.2M906.8 2091.3H930.2M996.4 2039.7H1019.8M996.4 2089.3H1019.8" stroke-width="3" fill="none"/><g stroke="none"><circle cx="352.5" cy="2065.4" r="10.1"/><circle cx="412.8" cy="1658.2" r="10.1"/><circle cx="420.6" cy="2064.5" r="10.1"/><circle cx="491.9" cy="2020.6" r="10.1"/><circle cx="616.6" cy="1842.1" r="10.1"/><circle cx="786" cy="2064.5" r="10.1"/><circle cx="800.9" cy="2069" r="10.1"/><circle cx="918.5" cy="2066.3" r="10.1"/><circle cx="1008.1" cy="2064.2" r="10.1"/></g></g>
<g stroke="#1e3966" fill="#1e3966"><path d="M1094.7 1525.3V1719.7M1128.7 1638.2V1684.4M1162.2 1616.5V1823.1M1177.4 1537.5V1674.1M1181.1 1524.4V1525.4M1211.5 1647.5V1828.9M1215.2 1512.7V1677M1237.9 1552.1V1663.6" stroke-width="4" fill="none"/><path d="M1083.0 1525.3H1106.4M1083.0 1719.7H1106.4M1117.0 1638.2H1140.4M1117.0 1684.4H1140.4M1150.5 1616.5H1173.9M1150.5 1823.1H1173.9M1165.7 1537.5H1189.1M1165.7 1674.1H1189.1M1169.4 1524.4H1192.8M1169.4 1525.4H1192.8M1199.8 1647.5H1223.2M1199.8 1828.9H1223.2M1203.5 1512.7H1226.9M1203.5 1677H1226.9M1226.2 1552.1H1249.6M1226.2 1663.6H1249.6" stroke-width="3" fill="none"/><g stroke="none"><circle cx="1094.7" cy="1622.3" r="10.1"/><circle cx="1128.7" cy="1661.1" r="10.1"/><circle cx="1162.2" cy="1719.9" r="10.1"/><circle cx="1177.4" cy="1605.4" r="10.1"/><circle cx="1181.1" cy="1524.9" r="10.1"/><circle cx="1211.5" cy="1738.3" r="10.1"/><circle cx="1215.2" cy="1594.4" r="10.1"/><circle cx="1237.9" cy="1608.1" r="10.1"/></g></g>
</svg>
</body></html>
